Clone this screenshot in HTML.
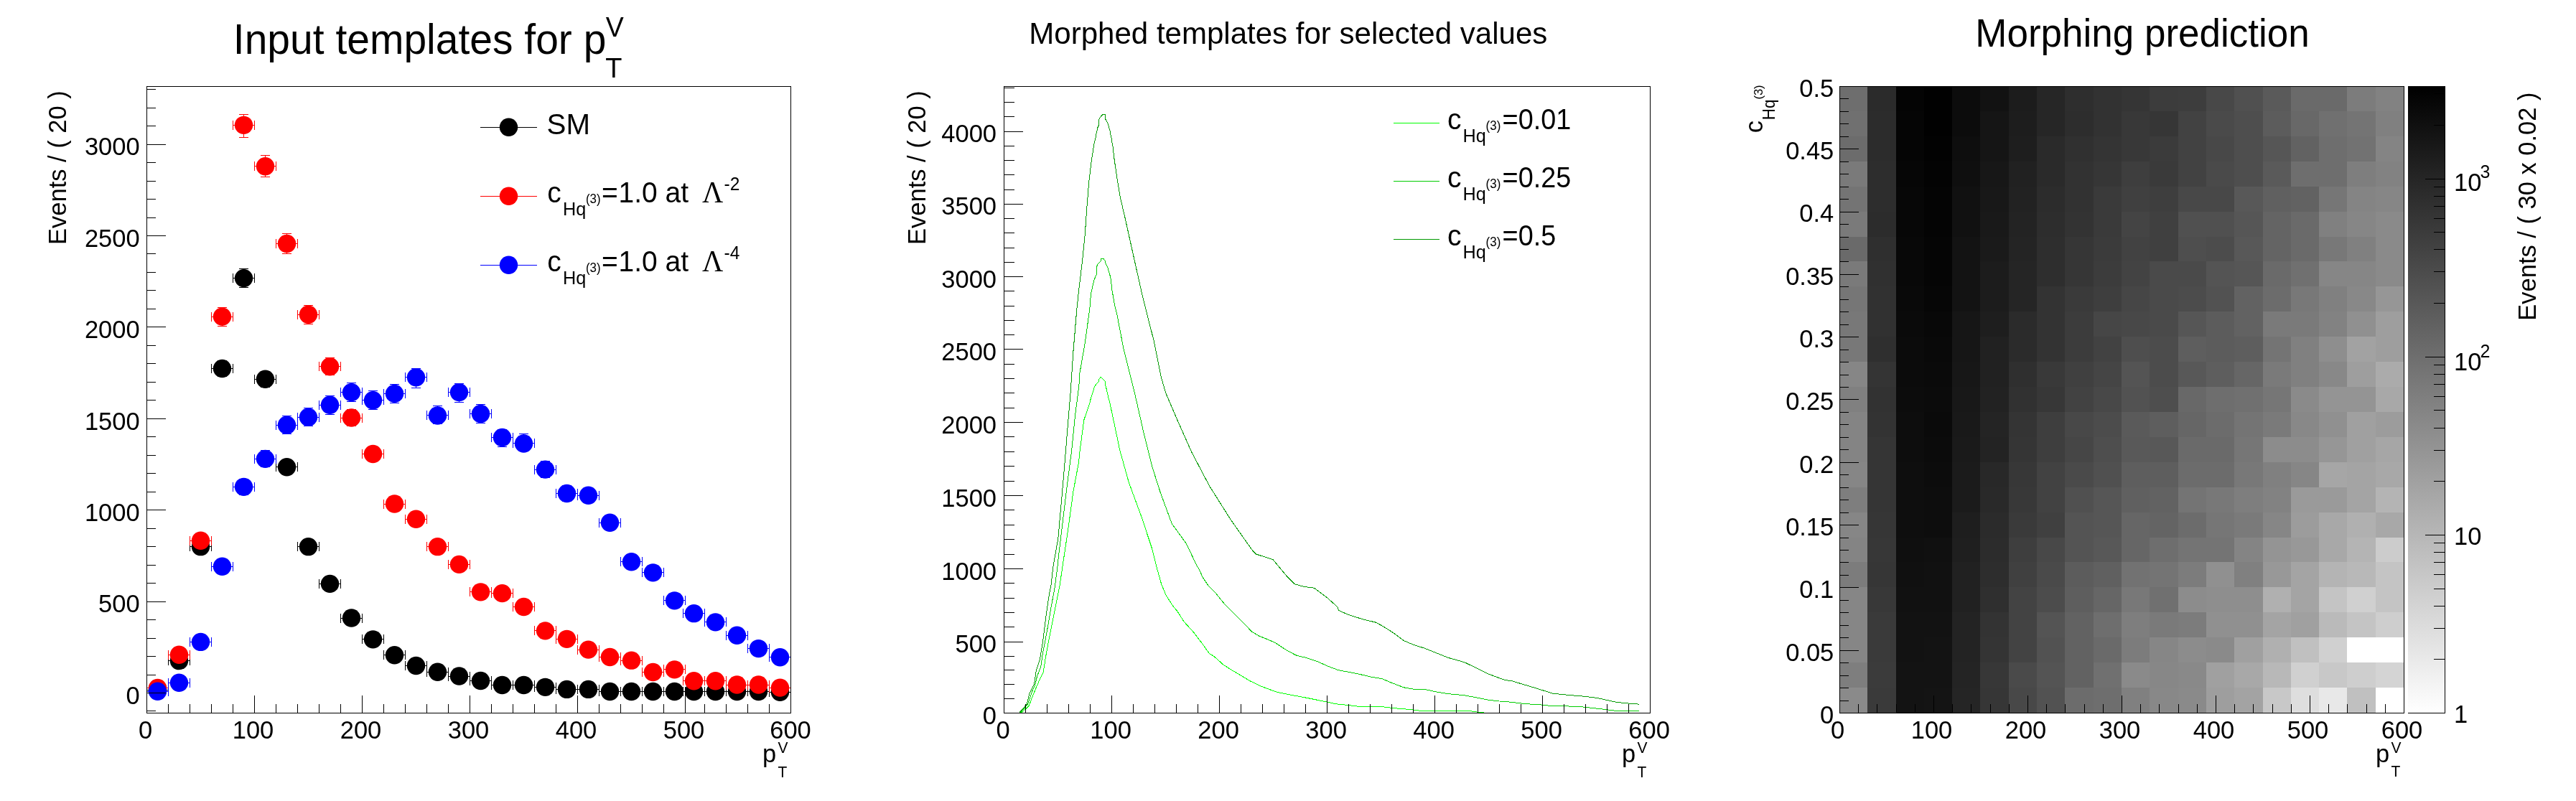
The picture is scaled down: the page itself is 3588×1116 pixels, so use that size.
<!DOCTYPE html>
<html><head><meta charset="utf-8"><title>plot</title>
<style>html,body{margin:0;padding:0;background:#fff;}svg{display:block;will-change:transform}text{fill:#000}</style></head>
<body><svg width="3588" height="1116" viewBox="0 0 3588 1116">
<rect width="3588" height="1116" fill="#fff"/>
<clipPath id="cp1"><rect x="204" y="120" width="898" height="874"/></clipPath>
<g clip-path="url(#cp1)">
<g fill="#000000" stroke="none">
<g shape-rendering="crispEdges">
<rect x="204" y="961" width="31" height="1"/>
<rect x="204" y="955" width="1" height="13"/>
<rect x="234" y="955" width="1" height="13"/>
<rect x="219" y="960" width="1" height="3"/>
<rect x="213" y="960" width="13" height="1"/>
<rect x="213" y="962" width="13" height="1"/>
<rect x="234" y="920" width="31" height="1"/>
<rect x="234" y="914" width="1" height="13"/>
<rect x="264" y="914" width="1" height="13"/>
<rect x="249" y="917" width="1" height="8"/>
<rect x="243" y="917" width="13" height="1"/>
<rect x="243" y="924" width="13" height="1"/>
<rect x="264" y="761" width="31" height="1"/>
<rect x="264" y="755" width="1" height="13"/>
<rect x="294" y="755" width="1" height="13"/>
<rect x="279" y="754" width="1" height="16"/>
<rect x="273" y="754" width="13" height="1"/>
<rect x="273" y="769" width="13" height="1"/>
<rect x="294" y="513" width="31" height="1"/>
<rect x="294" y="507" width="1" height="13"/>
<rect x="324" y="507" width="1" height="13"/>
<rect x="309" y="502" width="1" height="23"/>
<rect x="303" y="502" width="13" height="1"/>
<rect x="303" y="524" width="13" height="1"/>
<rect x="324" y="387" width="31" height="1"/>
<rect x="324" y="381" width="1" height="13"/>
<rect x="354" y="381" width="1" height="13"/>
<rect x="339" y="374" width="1" height="27"/>
<rect x="333" y="374" width="13" height="1"/>
<rect x="333" y="400" width="13" height="1"/>
<rect x="354" y="528" width="31" height="1"/>
<rect x="354" y="522" width="1" height="13"/>
<rect x="384" y="522" width="1" height="13"/>
<rect x="369" y="517" width="1" height="23"/>
<rect x="363" y="517" width="13" height="1"/>
<rect x="363" y="539" width="13" height="1"/>
<rect x="384" y="650" width="31" height="1"/>
<rect x="384" y="644" width="1" height="13"/>
<rect x="414" y="644" width="1" height="13"/>
<rect x="399" y="641" width="1" height="20"/>
<rect x="393" y="641" width="13" height="1"/>
<rect x="393" y="660" width="13" height="1"/>
<rect x="414" y="761" width="31" height="1"/>
<rect x="414" y="755" width="1" height="13"/>
<rect x="444" y="755" width="1" height="13"/>
<rect x="429" y="754" width="1" height="16"/>
<rect x="423" y="754" width="13" height="1"/>
<rect x="423" y="769" width="13" height="1"/>
<rect x="444" y="813" width="31" height="1"/>
<rect x="444" y="807" width="1" height="13"/>
<rect x="474" y="807" width="1" height="13"/>
<rect x="459" y="806" width="1" height="14"/>
<rect x="453" y="806" width="13" height="1"/>
<rect x="453" y="819" width="13" height="1"/>
<rect x="474" y="861" width="31" height="1"/>
<rect x="474" y="855" width="1" height="13"/>
<rect x="504" y="855" width="1" height="13"/>
<rect x="489" y="855" width="1" height="12"/>
<rect x="483" y="855" width="13" height="1"/>
<rect x="483" y="866" width="13" height="1"/>
<rect x="504" y="890" width="31" height="1"/>
<rect x="504" y="884" width="1" height="13"/>
<rect x="534" y="884" width="1" height="13"/>
<rect x="519" y="886" width="1" height="10"/>
<rect x="513" y="886" width="13" height="1"/>
<rect x="513" y="895" width="13" height="1"/>
<rect x="534" y="912" width="31" height="1"/>
<rect x="534" y="906" width="1" height="13"/>
<rect x="564" y="906" width="1" height="13"/>
<rect x="549" y="908" width="1" height="9"/>
<rect x="543" y="908" width="13" height="1"/>
<rect x="543" y="916" width="13" height="1"/>
<rect x="564" y="927" width="31" height="1"/>
<rect x="564" y="921" width="1" height="13"/>
<rect x="594" y="921" width="1" height="13"/>
<rect x="579" y="924" width="1" height="7"/>
<rect x="573" y="924" width="13" height="1"/>
<rect x="573" y="930" width="13" height="1"/>
<rect x="594" y="936" width="31" height="1"/>
<rect x="594" y="930" width="1" height="13"/>
<rect x="624" y="930" width="1" height="13"/>
<rect x="609" y="933" width="1" height="7"/>
<rect x="603" y="933" width="13" height="1"/>
<rect x="603" y="939" width="13" height="1"/>
<rect x="624" y="942" width="31" height="1"/>
<rect x="624" y="936" width="1" height="13"/>
<rect x="654" y="936" width="1" height="13"/>
<rect x="639" y="939" width="1" height="6"/>
<rect x="633" y="939" width="13" height="1"/>
<rect x="633" y="944" width="13" height="1"/>
<rect x="654" y="948" width="31" height="1"/>
<rect x="654" y="942" width="1" height="13"/>
<rect x="684" y="942" width="1" height="13"/>
<rect x="669" y="946" width="1" height="5"/>
<rect x="663" y="946" width="13" height="1"/>
<rect x="663" y="950" width="13" height="1"/>
<rect x="684" y="954" width="31" height="1"/>
<rect x="684" y="948" width="1" height="13"/>
<rect x="714" y="948" width="1" height="13"/>
<rect x="699" y="952" width="1" height="5"/>
<rect x="693" y="952" width="13" height="1"/>
<rect x="693" y="956" width="13" height="1"/>
<rect x="714" y="954" width="31" height="1"/>
<rect x="714" y="948" width="1" height="13"/>
<rect x="744" y="948" width="1" height="13"/>
<rect x="729" y="952" width="1" height="5"/>
<rect x="723" y="952" width="13" height="1"/>
<rect x="723" y="956" width="13" height="1"/>
<rect x="744" y="957" width="31" height="1"/>
<rect x="744" y="951" width="1" height="13"/>
<rect x="774" y="951" width="1" height="13"/>
<rect x="759" y="955" width="1" height="4"/>
<rect x="753" y="955" width="13" height="1"/>
<rect x="753" y="958" width="13" height="1"/>
<rect x="774" y="960" width="31" height="1"/>
<rect x="774" y="954" width="1" height="13"/>
<rect x="804" y="954" width="1" height="13"/>
<rect x="789" y="959" width="1" height="3"/>
<rect x="783" y="959" width="13" height="1"/>
<rect x="783" y="961" width="13" height="1"/>
<rect x="804" y="960" width="31" height="1"/>
<rect x="804" y="954" width="1" height="13"/>
<rect x="834" y="954" width="1" height="13"/>
<rect x="819" y="959" width="1" height="3"/>
<rect x="813" y="959" width="13" height="1"/>
<rect x="813" y="961" width="13" height="1"/>
<rect x="834" y="963" width="31" height="1"/>
<rect x="834" y="957" width="1" height="13"/>
<rect x="864" y="957" width="1" height="13"/>
<rect x="849" y="962" width="1" height="3"/>
<rect x="843" y="962" width="13" height="1"/>
<rect x="843" y="964" width="13" height="1"/>
<rect x="864" y="963" width="31" height="1"/>
<rect x="864" y="957" width="1" height="13"/>
<rect x="894" y="957" width="1" height="13"/>
<rect x="879" y="962" width="1" height="3"/>
<rect x="873" y="962" width="13" height="1"/>
<rect x="873" y="964" width="13" height="1"/>
<rect x="894" y="963" width="31" height="1"/>
<rect x="894" y="957" width="1" height="13"/>
<rect x="924" y="957" width="1" height="13"/>
<rect x="909" y="962" width="1" height="3"/>
<rect x="903" y="962" width="13" height="1"/>
<rect x="903" y="964" width="13" height="1"/>
<rect x="924" y="963" width="31" height="1"/>
<rect x="924" y="957" width="1" height="13"/>
<rect x="954" y="957" width="1" height="13"/>
<rect x="939" y="962" width="1" height="3"/>
<rect x="933" y="962" width="13" height="1"/>
<rect x="933" y="964" width="13" height="1"/>
<rect x="951" y="963" width="31" height="1"/>
<rect x="951" y="957" width="1" height="13"/>
<rect x="981" y="957" width="1" height="13"/>
<rect x="966" y="962" width="1" height="3"/>
<rect x="960" y="962" width="13" height="1"/>
<rect x="960" y="964" width="13" height="1"/>
<rect x="981" y="963" width="31" height="1"/>
<rect x="981" y="957" width="1" height="13"/>
<rect x="1011" y="957" width="1" height="13"/>
<rect x="996" y="962" width="1" height="3"/>
<rect x="990" y="962" width="13" height="1"/>
<rect x="990" y="964" width="13" height="1"/>
<rect x="1011" y="963" width="31" height="1"/>
<rect x="1011" y="957" width="1" height="13"/>
<rect x="1041" y="957" width="1" height="13"/>
<rect x="1026" y="962" width="1" height="3"/>
<rect x="1020" y="962" width="13" height="1"/>
<rect x="1020" y="964" width="13" height="1"/>
<rect x="1041" y="963" width="31" height="1"/>
<rect x="1041" y="957" width="1" height="13"/>
<rect x="1071" y="957" width="1" height="13"/>
<rect x="1056" y="962" width="1" height="3"/>
<rect x="1050" y="962" width="13" height="1"/>
<rect x="1050" y="964" width="13" height="1"/>
<rect x="1071" y="964" width="31" height="1"/>
<rect x="1071" y="958" width="1" height="13"/>
<rect x="1101" y="958" width="1" height="13"/>
<rect x="1086" y="963" width="1" height="2"/>
<rect x="1080" y="963" width="13" height="1"/>
<rect x="1080" y="964" width="13" height="1"/>
</g>
<circle cx="219.50" cy="961.68" r="12.7"/>
<circle cx="249.50" cy="920.66" r="12.7"/>
<circle cx="279.50" cy="761.66" r="12.7"/>
<circle cx="309.50" cy="513.48" r="12.7"/>
<circle cx="339.50" cy="387.61" r="12.7"/>
<circle cx="369.50" cy="528.26" r="12.7"/>
<circle cx="399.50" cy="650.82" r="12.7"/>
<circle cx="429.50" cy="761.66" r="12.7"/>
<circle cx="459.50" cy="813.38" r="12.7"/>
<circle cx="489.50" cy="861.03" r="12.7"/>
<circle cx="519.50" cy="890.84" r="12.7"/>
<circle cx="549.50" cy="912.76" r="12.7"/>
<circle cx="579.50" cy="927.53" r="12.7"/>
<circle cx="609.50" cy="936.20" r="12.7"/>
<circle cx="639.50" cy="942.06" r="12.7"/>
<circle cx="669.50" cy="948.43" r="12.7"/>
<circle cx="699.50" cy="954.54" r="12.7"/>
<circle cx="729.50" cy="954.54" r="12.7"/>
<circle cx="759.50" cy="957.35" r="12.7"/>
<circle cx="789.50" cy="960.40" r="12.7"/>
<circle cx="819.50" cy="960.40" r="12.7"/>
<circle cx="849.50" cy="963.46" r="12.7"/>
<circle cx="879.50" cy="963.46" r="12.7"/>
<circle cx="909.50" cy="963.46" r="12.7"/>
<circle cx="939.50" cy="963.46" r="12.7"/>
<circle cx="966.50" cy="963.46" r="12.7"/>
<circle cx="996.50" cy="963.46" r="12.7"/>
<circle cx="1026.50" cy="963.46" r="12.7"/>
<circle cx="1056.50" cy="963.46" r="12.7"/>
<circle cx="1086.50" cy="964.23" r="12.7"/>
</g>
<g fill="#ff0000" stroke="none">
<g shape-rendering="crispEdges">
<rect x="204" y="958" width="31" height="1"/>
<rect x="204" y="952" width="1" height="13"/>
<rect x="234" y="952" width="1" height="13"/>
<rect x="219" y="956" width="1" height="4"/>
<rect x="213" y="956" width="13" height="1"/>
<rect x="213" y="959" width="13" height="1"/>
<rect x="234" y="912" width="31" height="1"/>
<rect x="234" y="906" width="1" height="13"/>
<rect x="264" y="906" width="1" height="13"/>
<rect x="249" y="908" width="1" height="9"/>
<rect x="243" y="908" width="13" height="1"/>
<rect x="243" y="916" width="13" height="1"/>
<rect x="264" y="753" width="31" height="1"/>
<rect x="264" y="747" width="1" height="13"/>
<rect x="294" y="747" width="1" height="13"/>
<rect x="279" y="745" width="1" height="17"/>
<rect x="273" y="745" width="13" height="1"/>
<rect x="273" y="761" width="13" height="1"/>
<rect x="294" y="441" width="31" height="1"/>
<rect x="294" y="435" width="1" height="13"/>
<rect x="324" y="435" width="1" height="13"/>
<rect x="309" y="428" width="1" height="27"/>
<rect x="303" y="428" width="13" height="1"/>
<rect x="303" y="454" width="13" height="1"/>
<rect x="324" y="174" width="31" height="1"/>
<rect x="324" y="168" width="1" height="13"/>
<rect x="354" y="168" width="1" height="13"/>
<rect x="339" y="159" width="1" height="33"/>
<rect x="333" y="159" width="13" height="1"/>
<rect x="333" y="191" width="13" height="1"/>
<rect x="354" y="231" width="31" height="1"/>
<rect x="354" y="225" width="1" height="13"/>
<rect x="384" y="225" width="1" height="13"/>
<rect x="369" y="216" width="1" height="31"/>
<rect x="363" y="216" width="13" height="1"/>
<rect x="363" y="246" width="13" height="1"/>
<rect x="384" y="339" width="31" height="1"/>
<rect x="384" y="333" width="1" height="13"/>
<rect x="414" y="333" width="1" height="13"/>
<rect x="399" y="325" width="1" height="29"/>
<rect x="393" y="325" width="13" height="1"/>
<rect x="393" y="353" width="13" height="1"/>
<rect x="414" y="438" width="31" height="1"/>
<rect x="414" y="432" width="1" height="13"/>
<rect x="444" y="432" width="1" height="13"/>
<rect x="429" y="425" width="1" height="27"/>
<rect x="423" y="425" width="13" height="1"/>
<rect x="423" y="451" width="13" height="1"/>
<rect x="444" y="510" width="31" height="1"/>
<rect x="444" y="504" width="1" height="13"/>
<rect x="474" y="504" width="1" height="13"/>
<rect x="459" y="498" width="1" height="25"/>
<rect x="453" y="498" width="13" height="1"/>
<rect x="453" y="522" width="13" height="1"/>
<rect x="474" y="582" width="31" height="1"/>
<rect x="474" y="576" width="1" height="13"/>
<rect x="504" y="576" width="1" height="13"/>
<rect x="489" y="570" width="1" height="24"/>
<rect x="483" y="570" width="13" height="1"/>
<rect x="483" y="593" width="13" height="1"/>
<rect x="504" y="632" width="31" height="1"/>
<rect x="504" y="626" width="1" height="13"/>
<rect x="534" y="626" width="1" height="13"/>
<rect x="519" y="622" width="1" height="21"/>
<rect x="513" y="622" width="13" height="1"/>
<rect x="513" y="642" width="13" height="1"/>
<rect x="534" y="702" width="31" height="1"/>
<rect x="534" y="696" width="1" height="13"/>
<rect x="564" y="696" width="1" height="13"/>
<rect x="549" y="692" width="1" height="20"/>
<rect x="543" y="692" width="13" height="1"/>
<rect x="543" y="711" width="13" height="1"/>
<rect x="564" y="723" width="31" height="1"/>
<rect x="564" y="717" width="1" height="13"/>
<rect x="594" y="717" width="1" height="13"/>
<rect x="579" y="714" width="1" height="18"/>
<rect x="573" y="714" width="13" height="1"/>
<rect x="573" y="731" width="13" height="1"/>
<rect x="594" y="761" width="31" height="1"/>
<rect x="594" y="755" width="1" height="13"/>
<rect x="624" y="755" width="1" height="13"/>
<rect x="609" y="753" width="1" height="17"/>
<rect x="603" y="753" width="13" height="1"/>
<rect x="603" y="769" width="13" height="1"/>
<rect x="624" y="786" width="31" height="1"/>
<rect x="624" y="780" width="1" height="13"/>
<rect x="654" y="780" width="1" height="13"/>
<rect x="639" y="778" width="1" height="16"/>
<rect x="633" y="778" width="13" height="1"/>
<rect x="633" y="793" width="13" height="1"/>
<rect x="654" y="824" width="31" height="1"/>
<rect x="654" y="818" width="1" height="13"/>
<rect x="684" y="818" width="1" height="13"/>
<rect x="669" y="818" width="1" height="14"/>
<rect x="663" y="818" width="13" height="1"/>
<rect x="663" y="831" width="13" height="1"/>
<rect x="684" y="826" width="31" height="1"/>
<rect x="684" y="820" width="1" height="13"/>
<rect x="714" y="820" width="1" height="13"/>
<rect x="699" y="819" width="1" height="15"/>
<rect x="693" y="819" width="13" height="1"/>
<rect x="693" y="833" width="13" height="1"/>
<rect x="714" y="845" width="31" height="1"/>
<rect x="714" y="839" width="1" height="13"/>
<rect x="744" y="839" width="1" height="13"/>
<rect x="729" y="839" width="1" height="13"/>
<rect x="723" y="839" width="13" height="1"/>
<rect x="723" y="851" width="13" height="1"/>
<rect x="744" y="878" width="31" height="1"/>
<rect x="744" y="872" width="1" height="13"/>
<rect x="774" y="872" width="1" height="13"/>
<rect x="759" y="873" width="1" height="12"/>
<rect x="753" y="873" width="13" height="1"/>
<rect x="753" y="884" width="13" height="1"/>
<rect x="774" y="890" width="31" height="1"/>
<rect x="774" y="884" width="1" height="13"/>
<rect x="804" y="884" width="1" height="13"/>
<rect x="789" y="885" width="1" height="11"/>
<rect x="783" y="885" width="13" height="1"/>
<rect x="783" y="895" width="13" height="1"/>
<rect x="804" y="905" width="31" height="1"/>
<rect x="804" y="899" width="1" height="13"/>
<rect x="834" y="899" width="1" height="13"/>
<rect x="819" y="900" width="1" height="10"/>
<rect x="813" y="900" width="13" height="1"/>
<rect x="813" y="909" width="13" height="1"/>
<rect x="834" y="915" width="31" height="1"/>
<rect x="834" y="909" width="1" height="13"/>
<rect x="864" y="909" width="1" height="13"/>
<rect x="849" y="911" width="1" height="9"/>
<rect x="843" y="911" width="13" height="1"/>
<rect x="843" y="919" width="13" height="1"/>
<rect x="864" y="920" width="31" height="1"/>
<rect x="864" y="914" width="1" height="13"/>
<rect x="894" y="914" width="1" height="13"/>
<rect x="879" y="916" width="1" height="8"/>
<rect x="873" y="916" width="13" height="1"/>
<rect x="873" y="923" width="13" height="1"/>
<rect x="894" y="936" width="31" height="1"/>
<rect x="894" y="930" width="1" height="13"/>
<rect x="924" y="930" width="1" height="13"/>
<rect x="909" y="933" width="1" height="7"/>
<rect x="903" y="933" width="13" height="1"/>
<rect x="903" y="939" width="13" height="1"/>
<rect x="924" y="932" width="31" height="1"/>
<rect x="924" y="926" width="1" height="13"/>
<rect x="954" y="926" width="1" height="13"/>
<rect x="939" y="929" width="1" height="8"/>
<rect x="933" y="929" width="13" height="1"/>
<rect x="933" y="936" width="13" height="1"/>
<rect x="951" y="948" width="31" height="1"/>
<rect x="951" y="942" width="1" height="13"/>
<rect x="981" y="942" width="1" height="13"/>
<rect x="966" y="946" width="1" height="6"/>
<rect x="960" y="946" width="13" height="1"/>
<rect x="960" y="951" width="13" height="1"/>
<rect x="981" y="948" width="31" height="1"/>
<rect x="981" y="942" width="1" height="13"/>
<rect x="1011" y="942" width="1" height="13"/>
<rect x="996" y="946" width="1" height="6"/>
<rect x="990" y="946" width="13" height="1"/>
<rect x="990" y="951" width="13" height="1"/>
<rect x="1011" y="954" width="31" height="1"/>
<rect x="1011" y="948" width="1" height="13"/>
<rect x="1041" y="948" width="1" height="13"/>
<rect x="1026" y="952" width="1" height="4"/>
<rect x="1020" y="952" width="13" height="1"/>
<rect x="1020" y="955" width="13" height="1"/>
<rect x="1041" y="954" width="31" height="1"/>
<rect x="1041" y="948" width="1" height="13"/>
<rect x="1071" y="948" width="1" height="13"/>
<rect x="1056" y="952" width="1" height="4"/>
<rect x="1050" y="952" width="13" height="1"/>
<rect x="1050" y="955" width="13" height="1"/>
<rect x="1071" y="958" width="31" height="1"/>
<rect x="1071" y="952" width="1" height="13"/>
<rect x="1101" y="952" width="1" height="13"/>
<rect x="1086" y="956" width="1" height="4"/>
<rect x="1080" y="956" width="13" height="1"/>
<rect x="1080" y="959" width="13" height="1"/>
</g>
<circle cx="219.50" cy="958.37" r="12.7"/>
<circle cx="249.50" cy="912.25" r="12.7"/>
<circle cx="279.50" cy="753.25" r="12.7"/>
<circle cx="309.50" cy="441.12" r="12.7"/>
<circle cx="339.50" cy="174.35" r="12.7"/>
<circle cx="369.50" cy="231.68" r="12.7"/>
<circle cx="399.50" cy="339.46" r="12.7"/>
<circle cx="429.50" cy="438.32" r="12.7"/>
<circle cx="459.50" cy="510.68" r="12.7"/>
<circle cx="489.50" cy="582.03" r="12.7"/>
<circle cx="519.50" cy="632.48" r="12.7"/>
<circle cx="549.50" cy="702.04" r="12.7"/>
<circle cx="579.50" cy="723.19" r="12.7"/>
<circle cx="609.50" cy="761.66" r="12.7"/>
<circle cx="639.50" cy="786.38" r="12.7"/>
<circle cx="669.50" cy="824.85" r="12.7"/>
<circle cx="699.50" cy="826.63" r="12.7"/>
<circle cx="729.50" cy="845.49" r="12.7"/>
<circle cx="759.50" cy="878.87" r="12.7"/>
<circle cx="789.50" cy="890.33" r="12.7"/>
<circle cx="819.50" cy="905.11" r="12.7"/>
<circle cx="849.50" cy="915.56" r="12.7"/>
<circle cx="879.50" cy="920.15" r="12.7"/>
<circle cx="909.50" cy="936.45" r="12.7"/>
<circle cx="939.50" cy="932.89" r="12.7"/>
<circle cx="966.50" cy="948.68" r="12.7"/>
<circle cx="996.50" cy="948.68" r="12.7"/>
<circle cx="1026.50" cy="954.03" r="12.7"/>
<circle cx="1056.50" cy="954.03" r="12.7"/>
<circle cx="1086.50" cy="958.11" r="12.7"/>
</g>
<g fill="#0000ff" stroke="none">
<g shape-rendering="crispEdges">
<rect x="204" y="963" width="31" height="1"/>
<rect x="204" y="957" width="1" height="13"/>
<rect x="234" y="957" width="1" height="13"/>
<rect x="219" y="962" width="1" height="3"/>
<rect x="213" y="962" width="13" height="1"/>
<rect x="213" y="964" width="13" height="1"/>
<rect x="234" y="951" width="31" height="1"/>
<rect x="234" y="945" width="1" height="13"/>
<rect x="264" y="945" width="1" height="13"/>
<rect x="249" y="948" width="1" height="6"/>
<rect x="243" y="948" width="13" height="1"/>
<rect x="243" y="953" width="13" height="1"/>
<rect x="264" y="894" width="31" height="1"/>
<rect x="264" y="888" width="1" height="13"/>
<rect x="294" y="888" width="1" height="13"/>
<rect x="279" y="889" width="1" height="11"/>
<rect x="273" y="889" width="13" height="1"/>
<rect x="273" y="899" width="13" height="1"/>
<rect x="294" y="789" width="31" height="1"/>
<rect x="294" y="783" width="1" height="13"/>
<rect x="324" y="783" width="1" height="13"/>
<rect x="309" y="780" width="1" height="18"/>
<rect x="303" y="780" width="13" height="1"/>
<rect x="303" y="797" width="13" height="1"/>
<rect x="324" y="678" width="31" height="1"/>
<rect x="324" y="672" width="1" height="13"/>
<rect x="354" y="672" width="1" height="13"/>
<rect x="339" y="667" width="1" height="23"/>
<rect x="333" y="667" width="13" height="1"/>
<rect x="333" y="689" width="13" height="1"/>
<rect x="354" y="639" width="31" height="1"/>
<rect x="354" y="633" width="1" height="13"/>
<rect x="384" y="633" width="1" height="13"/>
<rect x="369" y="627" width="1" height="24"/>
<rect x="363" y="627" width="13" height="1"/>
<rect x="363" y="650" width="13" height="1"/>
<rect x="384" y="592" width="31" height="1"/>
<rect x="384" y="586" width="1" height="13"/>
<rect x="414" y="586" width="1" height="13"/>
<rect x="399" y="579" width="1" height="26"/>
<rect x="393" y="579" width="13" height="1"/>
<rect x="393" y="604" width="13" height="1"/>
<rect x="414" y="581" width="31" height="1"/>
<rect x="414" y="575" width="1" height="13"/>
<rect x="444" y="575" width="1" height="13"/>
<rect x="429" y="568" width="1" height="26"/>
<rect x="423" y="568" width="13" height="1"/>
<rect x="423" y="593" width="13" height="1"/>
<rect x="444" y="564" width="31" height="1"/>
<rect x="444" y="558" width="1" height="13"/>
<rect x="474" y="558" width="1" height="13"/>
<rect x="459" y="551" width="1" height="27"/>
<rect x="453" y="551" width="13" height="1"/>
<rect x="453" y="577" width="13" height="1"/>
<rect x="474" y="546" width="31" height="1"/>
<rect x="474" y="540" width="1" height="13"/>
<rect x="504" y="540" width="1" height="13"/>
<rect x="489" y="533" width="1" height="27"/>
<rect x="483" y="533" width="13" height="1"/>
<rect x="483" y="559" width="13" height="1"/>
<rect x="504" y="557" width="31" height="1"/>
<rect x="504" y="551" width="1" height="13"/>
<rect x="534" y="551" width="1" height="13"/>
<rect x="519" y="544" width="1" height="27"/>
<rect x="513" y="544" width="13" height="1"/>
<rect x="513" y="570" width="13" height="1"/>
<rect x="534" y="548" width="31" height="1"/>
<rect x="534" y="542" width="1" height="13"/>
<rect x="564" y="542" width="1" height="13"/>
<rect x="549" y="535" width="1" height="27"/>
<rect x="543" y="535" width="13" height="1"/>
<rect x="543" y="561" width="13" height="1"/>
<rect x="564" y="525" width="31" height="1"/>
<rect x="564" y="519" width="1" height="13"/>
<rect x="594" y="519" width="1" height="13"/>
<rect x="579" y="513" width="1" height="28"/>
<rect x="573" y="513" width="13" height="1"/>
<rect x="573" y="540" width="13" height="1"/>
<rect x="594" y="578" width="31" height="1"/>
<rect x="594" y="572" width="1" height="13"/>
<rect x="624" y="572" width="1" height="13"/>
<rect x="609" y="565" width="1" height="26"/>
<rect x="603" y="565" width="13" height="1"/>
<rect x="603" y="590" width="13" height="1"/>
<rect x="624" y="546" width="31" height="1"/>
<rect x="624" y="540" width="1" height="13"/>
<rect x="654" y="540" width="1" height="13"/>
<rect x="639" y="534" width="1" height="27"/>
<rect x="633" y="534" width="13" height="1"/>
<rect x="633" y="560" width="13" height="1"/>
<rect x="654" y="576" width="31" height="1"/>
<rect x="654" y="570" width="1" height="13"/>
<rect x="684" y="570" width="1" height="13"/>
<rect x="669" y="563" width="1" height="27"/>
<rect x="663" y="563" width="13" height="1"/>
<rect x="663" y="589" width="13" height="1"/>
<rect x="684" y="609" width="31" height="1"/>
<rect x="684" y="603" width="1" height="13"/>
<rect x="714" y="603" width="1" height="13"/>
<rect x="699" y="598" width="1" height="25"/>
<rect x="693" y="598" width="13" height="1"/>
<rect x="693" y="622" width="13" height="1"/>
<rect x="714" y="617" width="31" height="1"/>
<rect x="714" y="611" width="1" height="13"/>
<rect x="744" y="611" width="1" height="13"/>
<rect x="729" y="604" width="1" height="25"/>
<rect x="723" y="604" width="13" height="1"/>
<rect x="723" y="628" width="13" height="1"/>
<rect x="744" y="654" width="31" height="1"/>
<rect x="744" y="648" width="1" height="13"/>
<rect x="774" y="648" width="1" height="13"/>
<rect x="759" y="642" width="1" height="24"/>
<rect x="753" y="642" width="13" height="1"/>
<rect x="753" y="665" width="13" height="1"/>
<rect x="774" y="687" width="31" height="1"/>
<rect x="774" y="681" width="1" height="13"/>
<rect x="804" y="681" width="1" height="13"/>
<rect x="789" y="676" width="1" height="23"/>
<rect x="783" y="676" width="13" height="1"/>
<rect x="783" y="698" width="13" height="1"/>
<rect x="804" y="690" width="31" height="1"/>
<rect x="804" y="684" width="1" height="13"/>
<rect x="834" y="684" width="1" height="13"/>
<rect x="819" y="679" width="1" height="22"/>
<rect x="813" y="679" width="13" height="1"/>
<rect x="813" y="700" width="13" height="1"/>
<rect x="834" y="728" width="31" height="1"/>
<rect x="834" y="722" width="1" height="13"/>
<rect x="864" y="722" width="1" height="13"/>
<rect x="849" y="718" width="1" height="21"/>
<rect x="843" y="718" width="13" height="1"/>
<rect x="843" y="738" width="13" height="1"/>
<rect x="864" y="782" width="31" height="1"/>
<rect x="864" y="776" width="1" height="13"/>
<rect x="894" y="776" width="1" height="13"/>
<rect x="879" y="774" width="1" height="18"/>
<rect x="873" y="774" width="13" height="1"/>
<rect x="873" y="791" width="13" height="1"/>
<rect x="894" y="797" width="31" height="1"/>
<rect x="894" y="791" width="1" height="13"/>
<rect x="924" y="791" width="1" height="13"/>
<rect x="909" y="789" width="1" height="18"/>
<rect x="903" y="789" width="13" height="1"/>
<rect x="903" y="806" width="13" height="1"/>
<rect x="924" y="836" width="31" height="1"/>
<rect x="924" y="830" width="1" height="13"/>
<rect x="954" y="830" width="1" height="13"/>
<rect x="939" y="829" width="1" height="16"/>
<rect x="933" y="829" width="13" height="1"/>
<rect x="933" y="844" width="13" height="1"/>
<rect x="951" y="854" width="31" height="1"/>
<rect x="951" y="848" width="1" height="13"/>
<rect x="981" y="848" width="1" height="13"/>
<rect x="966" y="847" width="1" height="15"/>
<rect x="960" y="847" width="13" height="1"/>
<rect x="960" y="861" width="13" height="1"/>
<rect x="981" y="866" width="31" height="1"/>
<rect x="981" y="860" width="1" height="13"/>
<rect x="1011" y="860" width="1" height="13"/>
<rect x="996" y="860" width="1" height="14"/>
<rect x="990" y="860" width="13" height="1"/>
<rect x="990" y="873" width="13" height="1"/>
<rect x="1011" y="885" width="31" height="1"/>
<rect x="1011" y="879" width="1" height="13"/>
<rect x="1041" y="879" width="1" height="13"/>
<rect x="1026" y="879" width="1" height="12"/>
<rect x="1020" y="879" width="13" height="1"/>
<rect x="1020" y="890" width="13" height="1"/>
<rect x="1041" y="903" width="31" height="1"/>
<rect x="1041" y="897" width="1" height="13"/>
<rect x="1071" y="897" width="1" height="13"/>
<rect x="1056" y="898" width="1" height="11"/>
<rect x="1050" y="898" width="13" height="1"/>
<rect x="1050" y="908" width="13" height="1"/>
<rect x="1071" y="915" width="31" height="1"/>
<rect x="1071" y="909" width="1" height="13"/>
<rect x="1101" y="909" width="1" height="13"/>
<rect x="1086" y="911" width="1" height="10"/>
<rect x="1080" y="911" width="13" height="1"/>
<rect x="1080" y="920" width="13" height="1"/>
</g>
<circle cx="219.50" cy="963.21" r="12.7"/>
<circle cx="249.50" cy="951.23" r="12.7"/>
<circle cx="279.50" cy="894.41" r="12.7"/>
<circle cx="309.50" cy="789.18" r="12.7"/>
<circle cx="339.50" cy="678.34" r="12.7"/>
<circle cx="369.50" cy="639.36" r="12.7"/>
<circle cx="399.50" cy="592.22" r="12.7"/>
<circle cx="429.50" cy="581.26" r="12.7"/>
<circle cx="459.50" cy="564.19" r="12.7"/>
<circle cx="489.50" cy="546.61" r="12.7"/>
<circle cx="519.50" cy="557.82" r="12.7"/>
<circle cx="549.50" cy="548.39" r="12.7"/>
<circle cx="579.50" cy="525.72" r="12.7"/>
<circle cx="609.50" cy="578.97" r="12.7"/>
<circle cx="639.50" cy="546.61" r="12.7"/>
<circle cx="669.50" cy="576.42" r="12.7"/>
<circle cx="699.50" cy="609.54" r="12.7"/>
<circle cx="729.50" cy="617.95" r="12.7"/>
<circle cx="759.50" cy="654.13" r="12.7"/>
<circle cx="789.50" cy="687.51" r="12.7"/>
<circle cx="819.50" cy="690.32" r="12.7"/>
<circle cx="849.50" cy="728.28" r="12.7"/>
<circle cx="879.50" cy="782.81" r="12.7"/>
<circle cx="909.50" cy="797.84" r="12.7"/>
<circle cx="939.50" cy="836.83" r="12.7"/>
<circle cx="966.50" cy="854.66" r="12.7"/>
<circle cx="996.50" cy="866.89" r="12.7"/>
<circle cx="1026.50" cy="885.24" r="12.7"/>
<circle cx="1056.50" cy="903.58" r="12.7"/>
<circle cx="1086.50" cy="915.81" r="12.7"/>
</g>
</g>
<g shape-rendering="crispEdges">
<rect x="204.00" y="120.00" width="898.00" height="1" fill="#000"/>
<rect x="204.00" y="993.00" width="898.00" height="1" fill="#000"/>
<rect x="204.00" y="120.00" width="1" height="874.00" fill="#000"/>
<rect x="1101.00" y="120.00" width="1" height="874.00" fill="#000"/>
<rect x="234.00" y="981.00" width="1" height="12.00" fill="#000"/>
<rect x="264.00" y="981.00" width="1" height="12.00" fill="#000"/>
<rect x="294.00" y="981.00" width="1" height="12.00" fill="#000"/>
<rect x="324.00" y="981.00" width="1" height="12.00" fill="#000"/>
<rect x="354.00" y="969.00" width="1" height="24.00" fill="#000"/>
<rect x="384.00" y="981.00" width="1" height="12.00" fill="#000"/>
<rect x="414.00" y="981.00" width="1" height="12.00" fill="#000"/>
<rect x="444.00" y="981.00" width="1" height="12.00" fill="#000"/>
<rect x="474.00" y="981.00" width="1" height="12.00" fill="#000"/>
<rect x="504.00" y="969.00" width="1" height="24.00" fill="#000"/>
<rect x="534.00" y="981.00" width="1" height="12.00" fill="#000"/>
<rect x="564.00" y="981.00" width="1" height="12.00" fill="#000"/>
<rect x="594.00" y="981.00" width="1" height="12.00" fill="#000"/>
<rect x="624.00" y="981.00" width="1" height="12.00" fill="#000"/>
<rect x="654.00" y="969.00" width="1" height="24.00" fill="#000"/>
<rect x="684.00" y="981.00" width="1" height="12.00" fill="#000"/>
<rect x="714.00" y="981.00" width="1" height="12.00" fill="#000"/>
<rect x="744.00" y="981.00" width="1" height="12.00" fill="#000"/>
<rect x="774.00" y="981.00" width="1" height="12.00" fill="#000"/>
<rect x="804.00" y="969.00" width="1" height="24.00" fill="#000"/>
<rect x="834.00" y="981.00" width="1" height="12.00" fill="#000"/>
<rect x="864.00" y="981.00" width="1" height="12.00" fill="#000"/>
<rect x="894.00" y="981.00" width="1" height="12.00" fill="#000"/>
<rect x="924.00" y="981.00" width="1" height="12.00" fill="#000"/>
<rect x="954.00" y="969.00" width="1" height="24.00" fill="#000"/>
<rect x="981.00" y="981.00" width="1" height="12.00" fill="#000"/>
<rect x="1011.00" y="981.00" width="1" height="12.00" fill="#000"/>
<rect x="1041.00" y="981.00" width="1" height="12.00" fill="#000"/>
<rect x="1071.00" y="981.00" width="1" height="12.00" fill="#000"/>
<rect x="204.00" y="990.00" width="13.00" height="1" fill="#000"/>
<rect x="204.00" y="965.00" width="27.00" height="1" fill="#000"/>
<rect x="204.00" y="940.00" width="13.00" height="1" fill="#000"/>
<rect x="204.00" y="914.00" width="13.00" height="1" fill="#000"/>
<rect x="204.00" y="889.00" width="13.00" height="1" fill="#000"/>
<rect x="204.00" y="863.00" width="13.00" height="1" fill="#000"/>
<rect x="204.00" y="838.00" width="27.00" height="1" fill="#000"/>
<rect x="204.00" y="812.00" width="13.00" height="1" fill="#000"/>
<rect x="204.00" y="787.00" width="13.00" height="1" fill="#000"/>
<rect x="204.00" y="761.00" width="13.00" height="1" fill="#000"/>
<rect x="204.00" y="736.00" width="13.00" height="1" fill="#000"/>
<rect x="204.00" y="710.00" width="27.00" height="1" fill="#000"/>
<rect x="204.00" y="685.00" width="13.00" height="1" fill="#000"/>
<rect x="204.00" y="659.00" width="13.00" height="1" fill="#000"/>
<rect x="204.00" y="634.00" width="13.00" height="1" fill="#000"/>
<rect x="204.00" y="608.00" width="13.00" height="1" fill="#000"/>
<rect x="204.00" y="583.00" width="27.00" height="1" fill="#000"/>
<rect x="204.00" y="557.00" width="13.00" height="1" fill="#000"/>
<rect x="204.00" y="532.00" width="13.00" height="1" fill="#000"/>
<rect x="204.00" y="506.00" width="13.00" height="1" fill="#000"/>
<rect x="204.00" y="481.00" width="13.00" height="1" fill="#000"/>
<rect x="204.00" y="455.00" width="27.00" height="1" fill="#000"/>
<rect x="204.00" y="430.00" width="13.00" height="1" fill="#000"/>
<rect x="204.00" y="404.00" width="13.00" height="1" fill="#000"/>
<rect x="204.00" y="379.00" width="13.00" height="1" fill="#000"/>
<rect x="204.00" y="353.00" width="13.00" height="1" fill="#000"/>
<rect x="204.00" y="328.00" width="27.00" height="1" fill="#000"/>
<rect x="204.00" y="303.00" width="13.00" height="1" fill="#000"/>
<rect x="204.00" y="277.00" width="13.00" height="1" fill="#000"/>
<rect x="204.00" y="252.00" width="13.00" height="1" fill="#000"/>
<rect x="204.00" y="226.00" width="13.00" height="1" fill="#000"/>
<rect x="204.00" y="201.00" width="27.00" height="1" fill="#000"/>
<rect x="204.00" y="175.00" width="13.00" height="1" fill="#000"/>
<rect x="204.00" y="150.00" width="13.00" height="1" fill="#000"/>
<rect x="204.00" y="124.00" width="13.00" height="1" fill="#000"/>
</g>
<text transform="translate(202.50 1028.80) scale(1 1.035)" font-size="34.5" text-anchor="middle" font-family="Liberation Sans, sans-serif">0</text>
<text transform="translate(352.50 1028.80) scale(1 1.035)" font-size="34.5" text-anchor="middle" font-family="Liberation Sans, sans-serif">100</text>
<text transform="translate(502.50 1028.80) scale(1 1.035)" font-size="34.5" text-anchor="middle" font-family="Liberation Sans, sans-serif">200</text>
<text transform="translate(652.50 1028.80) scale(1 1.035)" font-size="34.5" text-anchor="middle" font-family="Liberation Sans, sans-serif">300</text>
<text transform="translate(802.50 1028.80) scale(1 1.035)" font-size="34.5" text-anchor="middle" font-family="Liberation Sans, sans-serif">400</text>
<text transform="translate(952.50 1028.80) scale(1 1.035)" font-size="34.5" text-anchor="middle" font-family="Liberation Sans, sans-serif">500</text>
<text transform="translate(1101.00 1028.80) scale(1 1.035)" font-size="34.5" text-anchor="middle" font-family="Liberation Sans, sans-serif">600</text>
<text transform="translate(194.60 980.80) scale(1 1.035)" font-size="34.5" text-anchor="end" font-family="Liberation Sans, sans-serif">0</text>
<text transform="translate(194.60 853.40) scale(1 1.035)" font-size="34.5" text-anchor="end" font-family="Liberation Sans, sans-serif">500</text>
<text transform="translate(194.60 726.00) scale(1 1.035)" font-size="34.5" text-anchor="end" font-family="Liberation Sans, sans-serif">1000</text>
<text transform="translate(194.60 598.60) scale(1 1.035)" font-size="34.5" text-anchor="end" font-family="Liberation Sans, sans-serif">1500</text>
<text transform="translate(194.60 471.20) scale(1 1.035)" font-size="34.5" text-anchor="end" font-family="Liberation Sans, sans-serif">2000</text>
<text transform="translate(194.60 343.80) scale(1 1.035)" font-size="34.5" text-anchor="end" font-family="Liberation Sans, sans-serif">2500</text>
<text transform="translate(194.60 216.40) scale(1 1.035)" font-size="34.5" text-anchor="end" font-family="Liberation Sans, sans-serif">3000</text>
<text transform="translate(92.00 126.30) rotate(-90) scale(1 1.035)" font-size="34.5" text-anchor="end" font-family="Liberation Sans, sans-serif">Events / ( 20 )</text>
<text transform="translate(1062.00 1062.00) scale(1 1.035)" font-size="34.5" text-anchor="start" font-family="Liberation Sans, sans-serif">p</text>
<text transform="translate(1083.50 1049.30) scale(1 1.035)" font-size="21" text-anchor="start" font-family="Liberation Sans, sans-serif">V</text>
<text transform="translate(1083.50 1082.70) scale(1 1.035)" font-size="21" text-anchor="start" font-family="Liberation Sans, sans-serif">T</text>
<text transform="translate(324.80 75.20) scale(1 1.035)" font-size="57.0" text-anchor="start" font-family="Liberation Sans, sans-serif">Input templates for p</text>
<text transform="translate(843.80 50.80) scale(1 1.035)" font-size="37.5" text-anchor="start" font-family="Liberation Sans, sans-serif">V</text>
<text transform="translate(843.20 108.20) scale(1 1.035)" font-size="38" text-anchor="start" font-family="Liberation Sans, sans-serif">T</text>
<rect x="669" y="176.70" width="79" height="1" fill="#000" shape-rendering="crispEdges"/>
<circle cx="708.5" cy="177.20" r="12.7" fill="#000"/>
<rect x="669" y="272.80" width="79" height="1" fill="#ff0000" shape-rendering="crispEdges"/>
<circle cx="708.5" cy="273.30" r="12.7" fill="#ff0000"/>
<rect x="669" y="368.80" width="79" height="1" fill="#0000ff" shape-rendering="crispEdges"/>
<circle cx="708.5" cy="369.30" r="12.7" fill="#0000ff"/>
<text transform="translate(761.50 186.60) scale(1 1.0)" font-size="40.3" text-anchor="start" font-family="Liberation Sans, sans-serif">SM</text>
<text transform="translate(762.30 282.20) scale(1 1.035)" font-size="39" text-anchor="start" font-family="Liberation Sans, sans-serif">c</text>
<text transform="translate(783.90 300.00) scale(1 1.035)" font-size="25.3" text-anchor="start" font-family="Liberation Sans, sans-serif">Hq</text>
<text transform="translate(815.90 283.40) scale(1 1.035)" font-size="17" text-anchor="start" font-family="Liberation Sans, sans-serif">(3)</text>
<text transform="translate(837.90 282.20) scale(1 1.035)" font-size="39" text-anchor="start" font-family="Liberation Sans, sans-serif">=</text>
<text transform="translate(861.60 282.20) scale(1 1.035)" font-size="39" text-anchor="start" font-family="Liberation Sans, sans-serif">1.0</text>
<text transform="translate(926.60 282.20) scale(1 1.035)" font-size="39" text-anchor="start" font-family="Liberation Sans, sans-serif">at</text>
<text transform="translate(978.00 282.20) scale(1 1.035)" font-size="40.5" text-anchor="start" font-family="Liberation Serif, sans-serif">Λ</text>
<text transform="translate(1008.50 265.20) scale(1 1.035)" font-size="24.5" text-anchor="start" font-family="Liberation Sans, sans-serif">-2</text>
<text transform="translate(762.30 378.10) scale(1 1.035)" font-size="39" text-anchor="start" font-family="Liberation Sans, sans-serif">c</text>
<text transform="translate(783.90 395.90) scale(1 1.035)" font-size="25.3" text-anchor="start" font-family="Liberation Sans, sans-serif">Hq</text>
<text transform="translate(815.90 379.30) scale(1 1.035)" font-size="17" text-anchor="start" font-family="Liberation Sans, sans-serif">(3)</text>
<text transform="translate(837.90 378.10) scale(1 1.035)" font-size="39" text-anchor="start" font-family="Liberation Sans, sans-serif">=</text>
<text transform="translate(861.60 378.10) scale(1 1.035)" font-size="39" text-anchor="start" font-family="Liberation Sans, sans-serif">1.0</text>
<text transform="translate(926.60 378.10) scale(1 1.035)" font-size="39" text-anchor="start" font-family="Liberation Sans, sans-serif">at</text>
<text transform="translate(978.00 378.10) scale(1 1.035)" font-size="40.5" text-anchor="start" font-family="Liberation Serif, sans-serif">Λ</text>
<text transform="translate(1008.50 361.10) scale(1 1.035)" font-size="24.5" text-anchor="start" font-family="Liberation Sans, sans-serif">-4</text>
<clipPath id="cp2"><rect x="1398" y="120" width="901" height="874"/></clipPath>
<g clip-path="url(#cp2)" fill="none" stroke-width="1" shape-rendering="crispEdges">
<polyline points="1422.3,993.1 1432.8,984.0 1438.0,970.9 1443.3,957.8 1448.5,946.0 1453.2,936.8 1456.4,915.8 1460.3,894.8 1465.5,868.6 1470.8,842.4 1476.0,816.2 1479.9,789.6 1487.4,739.6 1494.9,684.7 1502.4,644.7 1503.9,629.8 1509.9,584.8 1518.4,559.9 1519.3,554.9 1520.6,551.2 1521.5,548.1 1522.5,545.6 1523.4,542.4 1524.3,539.3 1525.5,537.4 1526.5,535.6 1530.4,531.5 1530.4,528.4 1533.4,525.3 1539.4,531.2 1539.4,536.8 1540.5,539.3 1541.5,543.7 1542.4,547.4 1543.4,551.2 1544.3,556.2 1545.5,559.9 1549.8,579.8 1559.8,627.3 1572.3,672.2 1589.8,719.6 1604.7,764.6 1611.0,790.0 1617.6,813.6 1624.1,829.3 1633.3,843.7 1639.8,851.6 1649.0,866.0 1662.1,880.4 1675.2,897.5 1684.4,910.6 1691.0,914.5 1704.1,926.3 1714.5,932.9 1727.7,940.7 1740.8,948.6 1753.9,955.1 1774.8,963.0 1780.0,964.6 1799.5,968.5 1819.0,972.1 1838.4,976.0 1861.1,980.8 1877.4,982.5 1890.4,984.1 1922.8,984.4 1942.3,986.7 1961.8,988.3 1978.0,990.3 2046.2,990.3 2055.9,991.9 2067.3,993.0 2283.1,993.0" stroke="#00ff00"/>
<polyline points="1421.0,993.1 1431.5,981.3 1436.7,965.6 1441.9,953.8 1444.6,942.0 1449.8,928.9 1452.4,910.6 1456.4,889.6 1460.3,868.6 1464.2,845.0 1468.7,821.5 1472.9,790.0 1473.9,779.6 1479.9,729.6 1485.9,679.7 1492.4,629.8 1497.4,579.8 1502.9,537.4 1503.9,519.9 1510.9,479.9 1517.9,430.0 1519.4,409.7 1524.0,389.9 1525.6,386.2 1526.8,383.0 1527.4,382.4 1527.5,371.2 1528.4,369.9 1529.3,367.4 1533.6,363.7 1533.6,360.3 1536.8,360.3 1539.4,363.4 1539.6,366.2 1541.5,369.9 1542.7,372.4 1543.7,375.6 1544.6,378.7 1545.5,381.2 1546.5,385.5 1547.4,389.9 1548.6,402.2 1552.4,424.6 1556.1,439.6 1564.8,484.9 1579.8,544.9 1592.3,599.8 1604.7,649.7 1615.7,684.7 1632.2,729.6 1652.2,757.1 1667.9,790.0 1669.7,792.0 1675.2,804.4 1682.1,814.5 1683.1,816.2 1693.6,826.7 1704.1,839.8 1714.5,850.3 1727.7,863.4 1743.9,880.4 1753.9,886.2 1767.0,891.4 1777.5,896.2 1780.0,898.1 1793.0,906.5 1806.0,913.3 1819.0,916.3 1835.2,921.8 1849.8,928.3 1864.4,933.8 1877.4,936.1 1893.6,939.3 1909.8,943.2 1924.4,945.5 1939.0,951.6 1955.3,957.8 1968.3,960.1 1984.5,960.4 2000.7,964.0 2017.0,966.6 2039.7,968.8 2055.9,971.8 2072.1,975.0 2088.4,977.0 2104.6,978.2 2120.8,980.2 2137.1,981.5 2148.4,982.1 2163.0,983.8 2195.5,984.1 2211.7,985.7 2234.4,988.3 2250.7,990.3 2283.1,990.3" stroke="#00cc00"/>
<polyline points="1419.7,993.1 1430.1,981.3 1434.1,965.6 1440.6,952.5 1443.3,934.2 1448.5,918.4 1452.4,894.8 1455.0,873.9 1457.7,852.9 1460.3,834.6 1464.2,813.6 1466.8,790.0 1473.9,749.6 1477.4,709.7 1481.4,664.7 1485.9,609.8 1490.9,549.9 1494.9,489.9 1499.9,430.0 1502.9,402.2 1507.4,364.7 1511.2,327.3 1513.8,289.8 1516.8,252.4 1520.5,222.4 1524.0,199.9 1525.6,194.3 1526.5,189.3 1527.4,184.3 1528.4,180.3 1529.3,176.2 1530.4,175.3 1530.5,167.5 1531.2,165.6 1532.4,163.4 1536.2,159.4 1539.4,159.4 1539.5,165.6 1541.5,168.7 1542.7,171.2 1543.7,174.3 1544.6,177.4 1545.5,180.6 1546.5,183.7 1546.8,187.4 1547.7,190.5 1548.3,193.7 1548.7,198.0 1549.6,199.9 1551.6,218.7 1555.4,244.9 1559.9,273.0 1567.3,304.8 1574.8,338.5 1582.3,372.2 1589.8,405.9 1598.1,439.6 1607.2,474.9 1617.2,524.9 1623.7,547.4 1639.7,584.8 1659.7,629.8 1684.6,677.2 1714.6,724.6 1744.6,767.1 1749.6,772.1 1773.0,779.6 1780.0,788.0 1791.4,801.7 1803.4,813.7 1815.7,817.3 1830.3,819.2 1848.2,832.5 1862.8,845.5 1864.4,850.4 1877.4,856.2 1896.9,862.4 1916.3,867.2 1926.1,872.4 1942.3,882.8 1955.3,892.6 1968.3,898.1 1984.5,903.3 2000.7,909.8 2017.0,916.3 2039.7,922.7 2055.9,930.5 2072.1,938.6 2096.5,947.7 2104.6,948.4 2120.8,953.3 2137.1,958.1 2163.0,966.2 2185.7,968.5 2202.0,969.8 2224.7,972.4 2250.7,978.2 2266.9,979.9 2283.1,981.2" stroke="#009900"/>
</g>
<g shape-rendering="crispEdges">
<rect x="1398.00" y="120.00" width="901.00" height="1" fill="#000"/>
<rect x="1398.00" y="993.00" width="901.00" height="1" fill="#000"/>
<rect x="1398.00" y="120.00" width="1" height="874.00" fill="#000"/>
<rect x="2298.00" y="120.00" width="1" height="874.00" fill="#000"/>
<rect x="1428.00" y="981.00" width="1" height="12.00" fill="#000"/>
<rect x="1458.00" y="981.00" width="1" height="12.00" fill="#000"/>
<rect x="1488.00" y="981.00" width="1" height="12.00" fill="#000"/>
<rect x="1518.00" y="981.00" width="1" height="12.00" fill="#000"/>
<rect x="1548.00" y="969.00" width="1" height="24.00" fill="#000"/>
<rect x="1578.00" y="981.00" width="1" height="12.00" fill="#000"/>
<rect x="1608.00" y="981.00" width="1" height="12.00" fill="#000"/>
<rect x="1638.00" y="981.00" width="1" height="12.00" fill="#000"/>
<rect x="1668.00" y="981.00" width="1" height="12.00" fill="#000"/>
<rect x="1698.00" y="969.00" width="1" height="24.00" fill="#000"/>
<rect x="1728.00" y="981.00" width="1" height="12.00" fill="#000"/>
<rect x="1758.00" y="981.00" width="1" height="12.00" fill="#000"/>
<rect x="1788.00" y="981.00" width="1" height="12.00" fill="#000"/>
<rect x="1818.00" y="981.00" width="1" height="12.00" fill="#000"/>
<rect x="1848.00" y="969.00" width="1" height="24.00" fill="#000"/>
<rect x="1878.00" y="981.00" width="1" height="12.00" fill="#000"/>
<rect x="1908.00" y="981.00" width="1" height="12.00" fill="#000"/>
<rect x="1938.00" y="981.00" width="1" height="12.00" fill="#000"/>
<rect x="1968.00" y="981.00" width="1" height="12.00" fill="#000"/>
<rect x="1998.00" y="969.00" width="1" height="24.00" fill="#000"/>
<rect x="2028.00" y="981.00" width="1" height="12.00" fill="#000"/>
<rect x="2058.00" y="981.00" width="1" height="12.00" fill="#000"/>
<rect x="2088.00" y="981.00" width="1" height="12.00" fill="#000"/>
<rect x="2118.00" y="981.00" width="1" height="12.00" fill="#000"/>
<rect x="2148.00" y="969.00" width="1" height="24.00" fill="#000"/>
<rect x="2178.00" y="981.00" width="1" height="12.00" fill="#000"/>
<rect x="2208.00" y="981.00" width="1" height="12.00" fill="#000"/>
<rect x="2238.00" y="981.00" width="1" height="12.00" fill="#000"/>
<rect x="2268.00" y="981.00" width="1" height="12.00" fill="#000"/>
<rect x="1398.00" y="973.00" width="15.00" height="1" fill="#000"/>
<rect x="1398.00" y="953.00" width="15.00" height="1" fill="#000"/>
<rect x="1398.00" y="933.00" width="15.00" height="1" fill="#000"/>
<rect x="1398.00" y="914.00" width="15.00" height="1" fill="#000"/>
<rect x="1398.00" y="894.00" width="27.00" height="1" fill="#000"/>
<rect x="1398.00" y="873.00" width="15.00" height="1" fill="#000"/>
<rect x="1398.00" y="853.00" width="15.00" height="1" fill="#000"/>
<rect x="1398.00" y="833.00" width="15.00" height="1" fill="#000"/>
<rect x="1398.00" y="812.00" width="15.00" height="1" fill="#000"/>
<rect x="1398.00" y="792.00" width="27.00" height="1" fill="#000"/>
<rect x="1398.00" y="772.00" width="15.00" height="1" fill="#000"/>
<rect x="1398.00" y="751.00" width="15.00" height="1" fill="#000"/>
<rect x="1398.00" y="731.00" width="15.00" height="1" fill="#000"/>
<rect x="1398.00" y="710.00" width="15.00" height="1" fill="#000"/>
<rect x="1398.00" y="690.00" width="27.00" height="1" fill="#000"/>
<rect x="1398.00" y="670.00" width="15.00" height="1" fill="#000"/>
<rect x="1398.00" y="649.00" width="15.00" height="1" fill="#000"/>
<rect x="1398.00" y="629.00" width="15.00" height="1" fill="#000"/>
<rect x="1398.00" y="608.00" width="15.00" height="1" fill="#000"/>
<rect x="1398.00" y="588.00" width="27.00" height="1" fill="#000"/>
<rect x="1398.00" y="568.00" width="15.00" height="1" fill="#000"/>
<rect x="1398.00" y="547.00" width="15.00" height="1" fill="#000"/>
<rect x="1398.00" y="527.00" width="15.00" height="1" fill="#000"/>
<rect x="1398.00" y="507.00" width="15.00" height="1" fill="#000"/>
<rect x="1398.00" y="486.00" width="27.00" height="1" fill="#000"/>
<rect x="1398.00" y="466.00" width="15.00" height="1" fill="#000"/>
<rect x="1398.00" y="446.00" width="15.00" height="1" fill="#000"/>
<rect x="1398.00" y="426.00" width="15.00" height="1" fill="#000"/>
<rect x="1398.00" y="405.00" width="15.00" height="1" fill="#000"/>
<rect x="1398.00" y="385.00" width="27.00" height="1" fill="#000"/>
<rect x="1398.00" y="365.00" width="15.00" height="1" fill="#000"/>
<rect x="1398.00" y="345.00" width="15.00" height="1" fill="#000"/>
<rect x="1398.00" y="324.00" width="15.00" height="1" fill="#000"/>
<rect x="1398.00" y="304.00" width="15.00" height="1" fill="#000"/>
<rect x="1398.00" y="284.00" width="27.00" height="1" fill="#000"/>
<rect x="1398.00" y="264.00" width="15.00" height="1" fill="#000"/>
<rect x="1398.00" y="243.00" width="15.00" height="1" fill="#000"/>
<rect x="1398.00" y="223.00" width="15.00" height="1" fill="#000"/>
<rect x="1398.00" y="203.00" width="15.00" height="1" fill="#000"/>
<rect x="1398.00" y="183.00" width="27.00" height="1" fill="#000"/>
<rect x="1398.00" y="162.00" width="15.00" height="1" fill="#000"/>
<rect x="1398.00" y="142.00" width="15.00" height="1" fill="#000"/>
<rect x="1398.00" y="122.00" width="15.00" height="1" fill="#000"/>
</g>
<text transform="translate(1397.10 1028.80) scale(1 1.035)" font-size="34.5" text-anchor="middle" font-family="Liberation Sans, sans-serif">0</text>
<text transform="translate(1547.10 1028.80) scale(1 1.035)" font-size="34.5" text-anchor="middle" font-family="Liberation Sans, sans-serif">100</text>
<text transform="translate(1697.10 1028.80) scale(1 1.035)" font-size="34.5" text-anchor="middle" font-family="Liberation Sans, sans-serif">200</text>
<text transform="translate(1847.10 1028.80) scale(1 1.035)" font-size="34.5" text-anchor="middle" font-family="Liberation Sans, sans-serif">300</text>
<text transform="translate(1997.10 1028.80) scale(1 1.035)" font-size="34.5" text-anchor="middle" font-family="Liberation Sans, sans-serif">400</text>
<text transform="translate(2147.10 1028.80) scale(1 1.035)" font-size="34.5" text-anchor="middle" font-family="Liberation Sans, sans-serif">500</text>
<text transform="translate(2297.10 1028.80) scale(1 1.035)" font-size="34.5" text-anchor="middle" font-family="Liberation Sans, sans-serif">600</text>
<text transform="translate(1388.00 1008.50) scale(1 1.035)" font-size="34.5" text-anchor="end" font-family="Liberation Sans, sans-serif">0</text>
<text transform="translate(1388.00 909.20) scale(1 1.035)" font-size="34.5" text-anchor="end" font-family="Liberation Sans, sans-serif">500</text>
<text transform="translate(1388.00 807.60) scale(1 1.035)" font-size="34.5" text-anchor="end" font-family="Liberation Sans, sans-serif">1000</text>
<text transform="translate(1388.00 705.60) scale(1 1.035)" font-size="34.5" text-anchor="end" font-family="Liberation Sans, sans-serif">1500</text>
<text transform="translate(1388.00 603.60) scale(1 1.035)" font-size="34.5" text-anchor="end" font-family="Liberation Sans, sans-serif">2000</text>
<text transform="translate(1388.00 502.00) scale(1 1.035)" font-size="34.5" text-anchor="end" font-family="Liberation Sans, sans-serif">2500</text>
<text transform="translate(1388.00 400.70) scale(1 1.035)" font-size="34.5" text-anchor="end" font-family="Liberation Sans, sans-serif">3000</text>
<text transform="translate(1388.00 299.40) scale(1 1.035)" font-size="34.5" text-anchor="end" font-family="Liberation Sans, sans-serif">3500</text>
<text transform="translate(1388.00 198.10) scale(1 1.035)" font-size="34.5" text-anchor="end" font-family="Liberation Sans, sans-serif">4000</text>
<text transform="translate(1289.00 126.30) rotate(-90) scale(1 1.035)" font-size="34.5" text-anchor="end" font-family="Liberation Sans, sans-serif">Events / ( 20 )</text>
<text transform="translate(2259.00 1062.00) scale(1 1.035)" font-size="34.5" text-anchor="start" font-family="Liberation Sans, sans-serif">p</text>
<text transform="translate(2280.50 1049.30) scale(1 1.035)" font-size="21" text-anchor="start" font-family="Liberation Sans, sans-serif">V</text>
<text transform="translate(2280.50 1082.70) scale(1 1.035)" font-size="21" text-anchor="start" font-family="Liberation Sans, sans-serif">T</text>
<text transform="translate(1433.30 60.50) scale(1 1.03)" font-size="42.05" text-anchor="start" font-family="Liberation Sans, sans-serif">Morphed templates for selected values</text>
<rect x="1941" y="170.5" width="64" height="1" fill="#00ff00" shape-rendering="crispEdges"/>
<text transform="translate(2016.00 180.00) scale(1 1.035)" font-size="39" text-anchor="start" font-family="Liberation Sans, sans-serif">c</text>
<text transform="translate(2037.60 197.80) scale(1 1.035)" font-size="25.3" text-anchor="start" font-family="Liberation Sans, sans-serif">Hq</text>
<text transform="translate(2069.60 181.20) scale(1 1.035)" font-size="17" text-anchor="start" font-family="Liberation Sans, sans-serif">(3)</text>
<text transform="translate(2092.60 180.00) scale(1 1.075)" font-size="37.8" text-anchor="start" font-family="Liberation Sans, sans-serif">=0.01</text>
<rect x="1941" y="251.6" width="64" height="1" fill="#00cc00" shape-rendering="crispEdges"/>
<text transform="translate(2016.00 261.10) scale(1 1.035)" font-size="39" text-anchor="start" font-family="Liberation Sans, sans-serif">c</text>
<text transform="translate(2037.60 278.90) scale(1 1.035)" font-size="25.3" text-anchor="start" font-family="Liberation Sans, sans-serif">Hq</text>
<text transform="translate(2069.60 262.30) scale(1 1.035)" font-size="17" text-anchor="start" font-family="Liberation Sans, sans-serif">(3)</text>
<text transform="translate(2092.60 261.10) scale(1 1.075)" font-size="37.8" text-anchor="start" font-family="Liberation Sans, sans-serif">=0.25</text>
<rect x="1941" y="332.7" width="64" height="1" fill="#009900" shape-rendering="crispEdges"/>
<text transform="translate(2016.00 342.20) scale(1 1.035)" font-size="39" text-anchor="start" font-family="Liberation Sans, sans-serif">c</text>
<text transform="translate(2037.60 360.00) scale(1 1.035)" font-size="25.3" text-anchor="start" font-family="Liberation Sans, sans-serif">Hq</text>
<text transform="translate(2069.60 343.40) scale(1 1.035)" font-size="17" text-anchor="start" font-family="Liberation Sans, sans-serif">(3)</text>
<text transform="translate(2092.60 342.20) scale(1 1.075)" font-size="37.8" text-anchor="start" font-family="Liberation Sans, sans-serif">=0.5</text>
<g shape-rendering="crispEdges">
<rect x="2562" y="958" width="39" height="35" fill="rgb(138,138,138)"/>
<rect x="2601" y="958" width="40" height="35" fill="rgb(58,58,58)"/>
<rect x="2641" y="958" width="39" height="35" fill="rgb(19,19,19)"/>
<rect x="2680" y="958" width="39" height="35" fill="rgb(20,20,20)"/>
<rect x="2719" y="958" width="39" height="35" fill="rgb(37,37,37)"/>
<rect x="2758" y="958" width="40" height="35" fill="rgb(54,54,54)"/>
<rect x="2798" y="958" width="39" height="35" fill="rgb(72,72,72)"/>
<rect x="2837" y="958" width="39" height="35" fill="rgb(82,82,82)"/>
<rect x="2876" y="958" width="40" height="35" fill="rgb(108,108,108)"/>
<rect x="2916" y="958" width="39" height="35" fill="rgb(110,110,110)"/>
<rect x="2955" y="958" width="39" height="35" fill="rgb(128,128,128)"/>
<rect x="2994" y="958" width="40" height="35" fill="rgb(136,136,136)"/>
<rect x="3034" y="958" width="39" height="35" fill="rgb(138,138,138)"/>
<rect x="3073" y="958" width="39" height="35" fill="rgb(158,158,158)"/>
<rect x="3112" y="958" width="40" height="35" fill="rgb(163,163,163)"/>
<rect x="3152" y="958" width="39" height="35" fill="rgb(200,200,200)"/>
<rect x="3191" y="958" width="39" height="35" fill="rgb(222,222,222)"/>
<rect x="3230" y="958" width="39" height="35" fill="rgb(232,232,232)"/>
<rect x="3269" y="958" width="40" height="35" fill="rgb(192,192,192)"/>
<rect x="3309" y="958" width="39" height="35" fill="rgb(255,255,255)"/>
<rect x="2562" y="923" width="39" height="35" fill="rgb(126,126,126)"/>
<rect x="2601" y="923" width="40" height="35" fill="rgb(59,59,59)"/>
<rect x="2641" y="923" width="39" height="35" fill="rgb(19,19,19)"/>
<rect x="2680" y="923" width="39" height="35" fill="rgb(19,19,19)"/>
<rect x="2719" y="923" width="39" height="35" fill="rgb(36,36,36)"/>
<rect x="2758" y="923" width="40" height="35" fill="rgb(55,55,55)"/>
<rect x="2798" y="923" width="39" height="35" fill="rgb(74,74,74)"/>
<rect x="2837" y="923" width="39" height="35" fill="rgb(84,84,84)"/>
<rect x="2876" y="923" width="40" height="35" fill="rgb(98,98,98)"/>
<rect x="2916" y="923" width="39" height="35" fill="rgb(112,112,112)"/>
<rect x="2955" y="923" width="39" height="35" fill="rgb(138,138,138)"/>
<rect x="2994" y="923" width="40" height="35" fill="rgb(135,135,135)"/>
<rect x="3034" y="923" width="39" height="35" fill="rgb(137,137,137)"/>
<rect x="3073" y="923" width="39" height="35" fill="rgb(160,160,160)"/>
<rect x="3112" y="923" width="40" height="35" fill="rgb(168,168,168)"/>
<rect x="3152" y="923" width="39" height="35" fill="rgb(184,184,184)"/>
<rect x="3191" y="923" width="39" height="35" fill="rgb(208,208,208)"/>
<rect x="3230" y="923" width="39" height="35" fill="rgb(200,200,200)"/>
<rect x="3269" y="923" width="40" height="35" fill="rgb(206,206,206)"/>
<rect x="3309" y="923" width="39" height="35" fill="rgb(212,212,212)"/>
<rect x="2562" y="888" width="39" height="35" fill="rgb(134,134,134)"/>
<rect x="2601" y="888" width="40" height="35" fill="rgb(58,58,58)"/>
<rect x="2641" y="888" width="39" height="35" fill="rgb(18,18,18)"/>
<rect x="2680" y="888" width="39" height="35" fill="rgb(19,19,19)"/>
<rect x="2719" y="888" width="39" height="35" fill="rgb(35,35,35)"/>
<rect x="2758" y="888" width="40" height="35" fill="rgb(52,52,52)"/>
<rect x="2798" y="888" width="39" height="35" fill="rgb(67,67,67)"/>
<rect x="2837" y="888" width="39" height="35" fill="rgb(82,82,82)"/>
<rect x="2876" y="888" width="40" height="35" fill="rgb(98,98,98)"/>
<rect x="2916" y="888" width="39" height="35" fill="rgb(106,106,106)"/>
<rect x="2955" y="888" width="39" height="35" fill="rgb(124,124,124)"/>
<rect x="2994" y="888" width="40" height="35" fill="rgb(134,134,134)"/>
<rect x="3034" y="888" width="39" height="35" fill="rgb(140,140,140)"/>
<rect x="3073" y="888" width="39" height="35" fill="rgb(138,138,138)"/>
<rect x="3112" y="888" width="40" height="35" fill="rgb(160,160,160)"/>
<rect x="3152" y="888" width="39" height="35" fill="rgb(176,176,176)"/>
<rect x="3191" y="888" width="39" height="35" fill="rgb(192,192,192)"/>
<rect x="3230" y="888" width="39" height="35" fill="rgb(208,208,208)"/>
<rect x="3269" y="888" width="40" height="35" fill="rgb(255,255,255)"/>
<rect x="3309" y="888" width="39" height="35" fill="rgb(255,255,255)"/>
<rect x="2562" y="853" width="39" height="35" fill="rgb(134,134,134)"/>
<rect x="2601" y="853" width="40" height="35" fill="rgb(58,58,58)"/>
<rect x="2641" y="853" width="39" height="35" fill="rgb(18,18,18)"/>
<rect x="2680" y="853" width="39" height="35" fill="rgb(18,18,18)"/>
<rect x="2719" y="853" width="39" height="35" fill="rgb(35,35,35)"/>
<rect x="2758" y="853" width="40" height="35" fill="rgb(51,51,51)"/>
<rect x="2798" y="853" width="39" height="35" fill="rgb(67,67,67)"/>
<rect x="2837" y="853" width="39" height="35" fill="rgb(84,84,84)"/>
<rect x="2876" y="853" width="40" height="35" fill="rgb(98,98,98)"/>
<rect x="2916" y="853" width="39" height="35" fill="rgb(110,110,110)"/>
<rect x="2955" y="853" width="39" height="35" fill="rgb(126,126,126)"/>
<rect x="2994" y="853" width="40" height="35" fill="rgb(122,122,122)"/>
<rect x="3034" y="853" width="39" height="35" fill="rgb(124,124,124)"/>
<rect x="3073" y="853" width="39" height="35" fill="rgb(144,144,144)"/>
<rect x="3112" y="853" width="40" height="35" fill="rgb(144,144,144)"/>
<rect x="3152" y="853" width="39" height="35" fill="rgb(164,164,164)"/>
<rect x="3191" y="853" width="39" height="35" fill="rgb(160,160,160)"/>
<rect x="3230" y="853" width="39" height="35" fill="rgb(186,186,186)"/>
<rect x="3269" y="853" width="40" height="35" fill="rgb(196,196,196)"/>
<rect x="3309" y="853" width="39" height="35" fill="rgb(206,206,206)"/>
<rect x="2562" y="818" width="39" height="35" fill="rgb(134,134,134)"/>
<rect x="2601" y="818" width="40" height="35" fill="rgb(56,56,56)"/>
<rect x="2641" y="818" width="39" height="35" fill="rgb(17,17,17)"/>
<rect x="2680" y="818" width="39" height="35" fill="rgb(17,17,17)"/>
<rect x="2719" y="818" width="39" height="35" fill="rgb(33,33,33)"/>
<rect x="2758" y="818" width="40" height="35" fill="rgb(47,47,47)"/>
<rect x="2798" y="818" width="39" height="35" fill="rgb(67,67,67)"/>
<rect x="2837" y="818" width="39" height="35" fill="rgb(76,76,76)"/>
<rect x="2876" y="818" width="40" height="35" fill="rgb(94,94,94)"/>
<rect x="2916" y="818" width="39" height="35" fill="rgb(102,102,102)"/>
<rect x="2955" y="818" width="39" height="35" fill="rgb(120,120,120)"/>
<rect x="2994" y="818" width="40" height="35" fill="rgb(112,112,112)"/>
<rect x="3034" y="818" width="39" height="35" fill="rgb(140,140,140)"/>
<rect x="3073" y="818" width="39" height="35" fill="rgb(142,142,142)"/>
<rect x="3112" y="818" width="40" height="35" fill="rgb(142,142,142)"/>
<rect x="3152" y="818" width="39" height="35" fill="rgb(176,176,176)"/>
<rect x="3191" y="818" width="39" height="35" fill="rgb(164,164,164)"/>
<rect x="3230" y="818" width="39" height="35" fill="rgb(196,196,196)"/>
<rect x="3269" y="818" width="40" height="35" fill="rgb(208,208,208)"/>
<rect x="3309" y="818" width="39" height="35" fill="rgb(196,196,196)"/>
<rect x="2562" y="783" width="39" height="35" fill="rgb(124,124,124)"/>
<rect x="2601" y="783" width="40" height="35" fill="rgb(54,54,54)"/>
<rect x="2641" y="783" width="39" height="35" fill="rgb(16,16,16)"/>
<rect x="2680" y="783" width="39" height="35" fill="rgb(17,17,17)"/>
<rect x="2719" y="783" width="39" height="35" fill="rgb(33,33,33)"/>
<rect x="2758" y="783" width="40" height="35" fill="rgb(45,45,45)"/>
<rect x="2798" y="783" width="39" height="35" fill="rgb(64,64,64)"/>
<rect x="2837" y="783" width="39" height="35" fill="rgb(74,74,74)"/>
<rect x="2876" y="783" width="40" height="35" fill="rgb(92,92,92)"/>
<rect x="2916" y="783" width="39" height="35" fill="rgb(96,96,96)"/>
<rect x="2955" y="783" width="39" height="35" fill="rgb(114,114,114)"/>
<rect x="2994" y="783" width="40" height="35" fill="rgb(116,116,116)"/>
<rect x="3034" y="783" width="39" height="35" fill="rgb(124,124,124)"/>
<rect x="3073" y="783" width="39" height="35" fill="rgb(144,144,144)"/>
<rect x="3112" y="783" width="40" height="35" fill="rgb(128,128,128)"/>
<rect x="3152" y="783" width="39" height="35" fill="rgb(152,152,152)"/>
<rect x="3191" y="783" width="39" height="35" fill="rgb(164,164,164)"/>
<rect x="3230" y="783" width="39" height="35" fill="rgb(180,180,180)"/>
<rect x="3269" y="783" width="40" height="35" fill="rgb(184,184,184)"/>
<rect x="3309" y="783" width="39" height="35" fill="rgb(196,196,196)"/>
<rect x="2562" y="749" width="39" height="34" fill="rgb(132,132,132)"/>
<rect x="2601" y="749" width="40" height="34" fill="rgb(55,55,55)"/>
<rect x="2641" y="749" width="39" height="34" fill="rgb(15,15,15)"/>
<rect x="2680" y="749" width="39" height="34" fill="rgb(16,16,16)"/>
<rect x="2719" y="749" width="39" height="34" fill="rgb(31,31,31)"/>
<rect x="2758" y="749" width="40" height="34" fill="rgb(44,44,44)"/>
<rect x="2798" y="749" width="39" height="34" fill="rgb(62,62,62)"/>
<rect x="2837" y="749" width="39" height="34" fill="rgb(72,72,72)"/>
<rect x="2876" y="749" width="40" height="34" fill="rgb(84,84,84)"/>
<rect x="2916" y="749" width="39" height="34" fill="rgb(88,88,88)"/>
<rect x="2955" y="749" width="39" height="34" fill="rgb(102,102,102)"/>
<rect x="2994" y="749" width="40" height="34" fill="rgb(110,110,110)"/>
<rect x="3034" y="749" width="39" height="34" fill="rgb(116,116,116)"/>
<rect x="3073" y="749" width="39" height="34" fill="rgb(116,116,116)"/>
<rect x="3112" y="749" width="40" height="34" fill="rgb(132,132,132)"/>
<rect x="3152" y="749" width="39" height="34" fill="rgb(148,148,148)"/>
<rect x="3191" y="749" width="39" height="34" fill="rgb(152,152,152)"/>
<rect x="3230" y="749" width="39" height="34" fill="rgb(168,168,168)"/>
<rect x="3269" y="749" width="40" height="34" fill="rgb(180,180,180)"/>
<rect x="3309" y="749" width="39" height="34" fill="rgb(204,204,204)"/>
<rect x="2562" y="714" width="39" height="35" fill="rgb(134,134,134)"/>
<rect x="2601" y="714" width="40" height="35" fill="rgb(54,54,54)"/>
<rect x="2641" y="714" width="39" height="35" fill="rgb(14,14,14)"/>
<rect x="2680" y="714" width="39" height="35" fill="rgb(13,13,13)"/>
<rect x="2719" y="714" width="39" height="35" fill="rgb(30,30,30)"/>
<rect x="2758" y="714" width="40" height="35" fill="rgb(43,43,43)"/>
<rect x="2798" y="714" width="39" height="35" fill="rgb(58,58,58)"/>
<rect x="2837" y="714" width="39" height="35" fill="rgb(64,64,64)"/>
<rect x="2876" y="714" width="40" height="35" fill="rgb(84,84,84)"/>
<rect x="2916" y="714" width="39" height="35" fill="rgb(86,86,86)"/>
<rect x="2955" y="714" width="39" height="35" fill="rgb(102,102,102)"/>
<rect x="2994" y="714" width="40" height="35" fill="rgb(100,100,100)"/>
<rect x="3034" y="714" width="39" height="35" fill="rgb(108,108,108)"/>
<rect x="3073" y="714" width="39" height="35" fill="rgb(118,118,118)"/>
<rect x="3112" y="714" width="40" height="35" fill="rgb(122,122,122)"/>
<rect x="3152" y="714" width="39" height="35" fill="rgb(134,134,134)"/>
<rect x="3191" y="714" width="39" height="35" fill="rgb(156,156,156)"/>
<rect x="3230" y="714" width="39" height="35" fill="rgb(168,168,168)"/>
<rect x="3269" y="714" width="40" height="35" fill="rgb(176,176,176)"/>
<rect x="3309" y="714" width="39" height="35" fill="rgb(168,168,168)"/>
<rect x="2562" y="679" width="39" height="35" fill="rgb(126,126,126)"/>
<rect x="2601" y="679" width="40" height="35" fill="rgb(53,53,53)"/>
<rect x="2641" y="679" width="39" height="35" fill="rgb(14,14,14)"/>
<rect x="2680" y="679" width="39" height="35" fill="rgb(13,13,13)"/>
<rect x="2719" y="679" width="39" height="35" fill="rgb(27,27,27)"/>
<rect x="2758" y="679" width="40" height="35" fill="rgb(41,41,41)"/>
<rect x="2798" y="679" width="39" height="35" fill="rgb(56,56,56)"/>
<rect x="2837" y="679" width="39" height="35" fill="rgb(66,66,66)"/>
<rect x="2876" y="679" width="40" height="35" fill="rgb(80,80,80)"/>
<rect x="2916" y="679" width="39" height="35" fill="rgb(86,86,86)"/>
<rect x="2955" y="679" width="39" height="35" fill="rgb(96,96,96)"/>
<rect x="2994" y="679" width="40" height="35" fill="rgb(98,98,98)"/>
<rect x="3034" y="679" width="39" height="35" fill="rgb(116,116,116)"/>
<rect x="3073" y="679" width="39" height="35" fill="rgb(120,120,120)"/>
<rect x="3112" y="679" width="40" height="35" fill="rgb(126,126,126)"/>
<rect x="3152" y="679" width="39" height="35" fill="rgb(130,130,130)"/>
<rect x="3191" y="679" width="39" height="35" fill="rgb(154,154,154)"/>
<rect x="3230" y="679" width="39" height="35" fill="rgb(154,154,154)"/>
<rect x="3269" y="679" width="40" height="35" fill="rgb(164,164,164)"/>
<rect x="3309" y="679" width="39" height="35" fill="rgb(180,180,180)"/>
<rect x="2562" y="644" width="39" height="35" fill="rgb(134,134,134)"/>
<rect x="2601" y="644" width="40" height="35" fill="rgb(53,53,53)"/>
<rect x="2641" y="644" width="39" height="35" fill="rgb(14,14,14)"/>
<rect x="2680" y="644" width="39" height="35" fill="rgb(12,12,12)"/>
<rect x="2719" y="644" width="39" height="35" fill="rgb(27,27,27)"/>
<rect x="2758" y="644" width="40" height="35" fill="rgb(40,40,40)"/>
<rect x="2798" y="644" width="39" height="35" fill="rgb(55,55,55)"/>
<rect x="2837" y="644" width="39" height="35" fill="rgb(66,66,66)"/>
<rect x="2876" y="644" width="40" height="35" fill="rgb(74,74,74)"/>
<rect x="2916" y="644" width="39" height="35" fill="rgb(80,80,80)"/>
<rect x="2955" y="644" width="39" height="35" fill="rgb(94,94,94)"/>
<rect x="2994" y="644" width="40" height="35" fill="rgb(94,94,94)"/>
<rect x="3034" y="644" width="39" height="35" fill="rgb(108,108,108)"/>
<rect x="3073" y="644" width="39" height="35" fill="rgb(108,108,108)"/>
<rect x="3112" y="644" width="40" height="35" fill="rgb(120,120,120)"/>
<rect x="3152" y="644" width="39" height="35" fill="rgb(128,128,128)"/>
<rect x="3191" y="644" width="39" height="35" fill="rgb(134,134,134)"/>
<rect x="3230" y="644" width="39" height="35" fill="rgb(166,166,166)"/>
<rect x="3269" y="644" width="40" height="35" fill="rgb(164,164,164)"/>
<rect x="3309" y="644" width="39" height="35" fill="rgb(168,168,168)"/>
<rect x="2562" y="609" width="39" height="35" fill="rgb(132,132,132)"/>
<rect x="2601" y="609" width="40" height="35" fill="rgb(53,53,53)"/>
<rect x="2641" y="609" width="39" height="35" fill="rgb(13,13,13)"/>
<rect x="2680" y="609" width="39" height="35" fill="rgb(11,11,11)"/>
<rect x="2719" y="609" width="39" height="35" fill="rgb(26,26,26)"/>
<rect x="2758" y="609" width="40" height="35" fill="rgb(35,35,35)"/>
<rect x="2798" y="609" width="39" height="35" fill="rgb(53,53,53)"/>
<rect x="2837" y="609" width="39" height="35" fill="rgb(62,62,62)"/>
<rect x="2876" y="609" width="40" height="35" fill="rgb(70,70,70)"/>
<rect x="2916" y="609" width="39" height="35" fill="rgb(78,78,78)"/>
<rect x="2955" y="609" width="39" height="35" fill="rgb(89,89,89)"/>
<rect x="2994" y="609" width="40" height="35" fill="rgb(88,88,88)"/>
<rect x="3034" y="609" width="39" height="35" fill="rgb(106,106,106)"/>
<rect x="3073" y="609" width="39" height="35" fill="rgb(106,106,106)"/>
<rect x="3112" y="609" width="40" height="35" fill="rgb(118,118,118)"/>
<rect x="3152" y="609" width="39" height="35" fill="rgb(140,140,140)"/>
<rect x="3191" y="609" width="39" height="35" fill="rgb(140,140,140)"/>
<rect x="3230" y="609" width="39" height="35" fill="rgb(150,150,150)"/>
<rect x="3269" y="609" width="40" height="35" fill="rgb(160,160,160)"/>
<rect x="3309" y="609" width="39" height="35" fill="rgb(166,166,166)"/>
<rect x="2562" y="574" width="39" height="35" fill="rgb(132,132,132)"/>
<rect x="2601" y="574" width="40" height="35" fill="rgb(51,51,51)"/>
<rect x="2641" y="574" width="39" height="35" fill="rgb(13,13,13)"/>
<rect x="2680" y="574" width="39" height="35" fill="rgb(10,10,10)"/>
<rect x="2719" y="574" width="39" height="35" fill="rgb(25,25,25)"/>
<rect x="2758" y="574" width="40" height="35" fill="rgb(36,36,36)"/>
<rect x="2798" y="574" width="39" height="35" fill="rgb(52,52,52)"/>
<rect x="2837" y="574" width="39" height="35" fill="rgb(62,62,62)"/>
<rect x="2876" y="574" width="40" height="35" fill="rgb(72,72,72)"/>
<rect x="2916" y="574" width="39" height="35" fill="rgb(76,76,76)"/>
<rect x="2955" y="574" width="39" height="35" fill="rgb(90,90,90)"/>
<rect x="2994" y="574" width="40" height="35" fill="rgb(94,94,94)"/>
<rect x="3034" y="574" width="39" height="35" fill="rgb(102,102,102)"/>
<rect x="3073" y="574" width="39" height="35" fill="rgb(108,108,108)"/>
<rect x="3112" y="574" width="40" height="35" fill="rgb(116,116,116)"/>
<rect x="3152" y="574" width="39" height="35" fill="rgb(122,122,122)"/>
<rect x="3191" y="574" width="39" height="35" fill="rgb(136,136,136)"/>
<rect x="3230" y="574" width="39" height="35" fill="rgb(144,144,144)"/>
<rect x="3269" y="574" width="40" height="35" fill="rgb(160,160,160)"/>
<rect x="3309" y="574" width="39" height="35" fill="rgb(156,156,156)"/>
<rect x="2562" y="539" width="39" height="35" fill="rgb(128,128,128)"/>
<rect x="2601" y="539" width="40" height="35" fill="rgb(50,50,50)"/>
<rect x="2641" y="539" width="39" height="35" fill="rgb(12,12,12)"/>
<rect x="2680" y="539" width="39" height="35" fill="rgb(11,11,11)"/>
<rect x="2719" y="539" width="39" height="35" fill="rgb(24,24,24)"/>
<rect x="2758" y="539" width="40" height="35" fill="rgb(34,34,34)"/>
<rect x="2798" y="539" width="39" height="35" fill="rgb(49,49,49)"/>
<rect x="2837" y="539" width="39" height="35" fill="rgb(55,55,55)"/>
<rect x="2876" y="539" width="40" height="35" fill="rgb(66,66,66)"/>
<rect x="2916" y="539" width="39" height="35" fill="rgb(72,72,72)"/>
<rect x="2955" y="539" width="39" height="35" fill="rgb(82,82,82)"/>
<rect x="2994" y="539" width="40" height="35" fill="rgb(78,78,78)"/>
<rect x="3034" y="539" width="39" height="35" fill="rgb(104,104,104)"/>
<rect x="3073" y="539" width="39" height="35" fill="rgb(110,110,110)"/>
<rect x="3112" y="539" width="40" height="35" fill="rgb(112,112,112)"/>
<rect x="3152" y="539" width="39" height="35" fill="rgb(118,118,118)"/>
<rect x="3191" y="539" width="39" height="35" fill="rgb(138,138,138)"/>
<rect x="3230" y="539" width="39" height="35" fill="rgb(148,148,148)"/>
<rect x="3269" y="539" width="40" height="35" fill="rgb(148,148,148)"/>
<rect x="3309" y="539" width="39" height="35" fill="rgb(168,168,168)"/>
<rect x="2562" y="504" width="39" height="35" fill="rgb(134,134,134)"/>
<rect x="2601" y="504" width="40" height="35" fill="rgb(52,52,52)"/>
<rect x="2641" y="504" width="39" height="35" fill="rgb(11,11,11)"/>
<rect x="2680" y="504" width="39" height="35" fill="rgb(10,10,10)"/>
<rect x="2719" y="504" width="39" height="35" fill="rgb(23,23,23)"/>
<rect x="2758" y="504" width="40" height="35" fill="rgb(33,33,33)"/>
<rect x="2798" y="504" width="39" height="35" fill="rgb(47,47,47)"/>
<rect x="2837" y="504" width="39" height="35" fill="rgb(57,57,57)"/>
<rect x="2876" y="504" width="40" height="35" fill="rgb(64,64,64)"/>
<rect x="2916" y="504" width="39" height="35" fill="rgb(69,69,69)"/>
<rect x="2955" y="504" width="39" height="35" fill="rgb(84,84,84)"/>
<rect x="2994" y="504" width="40" height="35" fill="rgb(76,76,76)"/>
<rect x="3034" y="504" width="39" height="35" fill="rgb(88,88,88)"/>
<rect x="3073" y="504" width="39" height="35" fill="rgb(94,94,94)"/>
<rect x="3112" y="504" width="40" height="35" fill="rgb(102,102,102)"/>
<rect x="3152" y="504" width="39" height="35" fill="rgb(122,122,122)"/>
<rect x="3191" y="504" width="39" height="35" fill="rgb(128,128,128)"/>
<rect x="3230" y="504" width="39" height="35" fill="rgb(136,136,136)"/>
<rect x="3269" y="504" width="40" height="35" fill="rgb(158,158,158)"/>
<rect x="3309" y="504" width="39" height="35" fill="rgb(171,171,171)"/>
<rect x="2562" y="469" width="39" height="35" fill="rgb(120,120,120)"/>
<rect x="2601" y="469" width="40" height="35" fill="rgb(47,47,47)"/>
<rect x="2641" y="469" width="39" height="35" fill="rgb(11,11,11)"/>
<rect x="2680" y="469" width="39" height="35" fill="rgb(9,9,9)"/>
<rect x="2719" y="469" width="39" height="35" fill="rgb(22,22,22)"/>
<rect x="2758" y="469" width="40" height="35" fill="rgb(33,33,33)"/>
<rect x="2798" y="469" width="39" height="35" fill="rgb(43,43,43)"/>
<rect x="2837" y="469" width="39" height="35" fill="rgb(51,51,51)"/>
<rect x="2876" y="469" width="40" height="35" fill="rgb(60,60,60)"/>
<rect x="2916" y="469" width="39" height="35" fill="rgb(66,66,66)"/>
<rect x="2955" y="469" width="39" height="35" fill="rgb(78,78,78)"/>
<rect x="2994" y="469" width="40" height="35" fill="rgb(76,76,76)"/>
<rect x="3034" y="469" width="39" height="35" fill="rgb(94,94,94)"/>
<rect x="3073" y="469" width="39" height="35" fill="rgb(92,92,92)"/>
<rect x="3112" y="469" width="40" height="35" fill="rgb(94,94,94)"/>
<rect x="3152" y="469" width="39" height="35" fill="rgb(116,116,116)"/>
<rect x="3191" y="469" width="39" height="35" fill="rgb(128,128,128)"/>
<rect x="3230" y="469" width="39" height="35" fill="rgb(142,142,142)"/>
<rect x="3269" y="469" width="40" height="35" fill="rgb(162,162,162)"/>
<rect x="3309" y="469" width="39" height="35" fill="rgb(158,158,158)"/>
<rect x="2562" y="434" width="39" height="35" fill="rgb(120,120,120)"/>
<rect x="2601" y="434" width="40" height="35" fill="rgb(49,49,49)"/>
<rect x="2641" y="434" width="39" height="35" fill="rgb(10,10,10)"/>
<rect x="2680" y="434" width="39" height="35" fill="rgb(8,8,8)"/>
<rect x="2719" y="434" width="39" height="35" fill="rgb(22,22,22)"/>
<rect x="2758" y="434" width="40" height="35" fill="rgb(30,30,30)"/>
<rect x="2798" y="434" width="39" height="35" fill="rgb(43,43,43)"/>
<rect x="2837" y="434" width="39" height="35" fill="rgb(51,51,51)"/>
<rect x="2876" y="434" width="40" height="35" fill="rgb(60,60,60)"/>
<rect x="2916" y="434" width="39" height="35" fill="rgb(70,70,70)"/>
<rect x="2955" y="434" width="39" height="35" fill="rgb(72,72,72)"/>
<rect x="2994" y="434" width="40" height="35" fill="rgb(74,74,74)"/>
<rect x="3034" y="434" width="39" height="35" fill="rgb(86,86,86)"/>
<rect x="3073" y="434" width="39" height="35" fill="rgb(92,92,92)"/>
<rect x="3112" y="434" width="40" height="35" fill="rgb(98,98,98)"/>
<rect x="3152" y="434" width="39" height="35" fill="rgb(122,122,122)"/>
<rect x="3191" y="434" width="39" height="35" fill="rgb(122,122,122)"/>
<rect x="3230" y="434" width="39" height="35" fill="rgb(130,130,130)"/>
<rect x="3269" y="434" width="40" height="35" fill="rgb(144,144,144)"/>
<rect x="3309" y="434" width="39" height="35" fill="rgb(158,158,158)"/>
<rect x="2562" y="399" width="39" height="35" fill="rgb(118,118,118)"/>
<rect x="2601" y="399" width="40" height="35" fill="rgb(49,49,49)"/>
<rect x="2641" y="399" width="39" height="35" fill="rgb(9,9,9)"/>
<rect x="2680" y="399" width="39" height="35" fill="rgb(6,6,6)"/>
<rect x="2719" y="399" width="39" height="35" fill="rgb(19,19,19)"/>
<rect x="2758" y="399" width="40" height="35" fill="rgb(28,28,28)"/>
<rect x="2798" y="399" width="39" height="35" fill="rgb(37,37,37)"/>
<rect x="2837" y="399" width="39" height="35" fill="rgb(51,51,51)"/>
<rect x="2876" y="399" width="40" height="35" fill="rgb(58,58,58)"/>
<rect x="2916" y="399" width="39" height="35" fill="rgb(62,62,62)"/>
<rect x="2955" y="399" width="39" height="35" fill="rgb(70,70,70)"/>
<rect x="2994" y="399" width="40" height="35" fill="rgb(74,74,74)"/>
<rect x="3034" y="399" width="39" height="35" fill="rgb(76,76,76)"/>
<rect x="3073" y="399" width="39" height="35" fill="rgb(82,82,82)"/>
<rect x="3112" y="399" width="40" height="35" fill="rgb(98,98,98)"/>
<rect x="3152" y="399" width="39" height="35" fill="rgb(108,108,108)"/>
<rect x="3191" y="399" width="39" height="35" fill="rgb(120,120,120)"/>
<rect x="3230" y="399" width="39" height="35" fill="rgb(128,128,128)"/>
<rect x="3269" y="399" width="40" height="35" fill="rgb(136,136,136)"/>
<rect x="3309" y="399" width="39" height="35" fill="rgb(150,150,150)"/>
<rect x="2562" y="364" width="39" height="35" fill="rgb(122,122,122)"/>
<rect x="2601" y="364" width="40" height="35" fill="rgb(48,48,48)"/>
<rect x="2641" y="364" width="39" height="35" fill="rgb(8,8,8)"/>
<rect x="2680" y="364" width="39" height="35" fill="rgb(5,5,5)"/>
<rect x="2719" y="364" width="39" height="35" fill="rgb(19,19,19)"/>
<rect x="2758" y="364" width="40" height="35" fill="rgb(28,28,28)"/>
<rect x="2798" y="364" width="39" height="35" fill="rgb(37,37,37)"/>
<rect x="2837" y="364" width="39" height="35" fill="rgb(46,46,46)"/>
<rect x="2876" y="364" width="40" height="35" fill="rgb(54,54,54)"/>
<rect x="2916" y="364" width="39" height="35" fill="rgb(60,60,60)"/>
<rect x="2955" y="364" width="39" height="35" fill="rgb(67,67,67)"/>
<rect x="2994" y="364" width="40" height="35" fill="rgb(74,74,74)"/>
<rect x="3034" y="364" width="39" height="35" fill="rgb(74,74,74)"/>
<rect x="3073" y="364" width="39" height="35" fill="rgb(84,84,84)"/>
<rect x="3112" y="364" width="40" height="35" fill="rgb(86,86,86)"/>
<rect x="3152" y="364" width="39" height="35" fill="rgb(106,106,106)"/>
<rect x="3191" y="364" width="39" height="35" fill="rgb(112,112,112)"/>
<rect x="3230" y="364" width="39" height="35" fill="rgb(134,134,134)"/>
<rect x="3269" y="364" width="40" height="35" fill="rgb(134,134,134)"/>
<rect x="3309" y="364" width="39" height="35" fill="rgb(138,138,138)"/>
<rect x="2562" y="330" width="39" height="34" fill="rgb(106,106,106)"/>
<rect x="2601" y="330" width="40" height="34" fill="rgb(47,47,47)"/>
<rect x="2641" y="330" width="39" height="34" fill="rgb(8,8,8)"/>
<rect x="2680" y="330" width="39" height="34" fill="rgb(5,5,5)"/>
<rect x="2719" y="330" width="39" height="34" fill="rgb(19,19,19)"/>
<rect x="2758" y="330" width="40" height="34" fill="rgb(26,26,26)"/>
<rect x="2798" y="330" width="39" height="34" fill="rgb(36,36,36)"/>
<rect x="2837" y="330" width="39" height="34" fill="rgb(46,46,46)"/>
<rect x="2876" y="330" width="40" height="34" fill="rgb(54,54,54)"/>
<rect x="2916" y="330" width="39" height="34" fill="rgb(59,59,59)"/>
<rect x="2955" y="330" width="39" height="34" fill="rgb(66,66,66)"/>
<rect x="2994" y="330" width="40" height="34" fill="rgb(64,64,64)"/>
<rect x="3034" y="330" width="39" height="34" fill="rgb(78,78,78)"/>
<rect x="3073" y="330" width="39" height="34" fill="rgb(76,76,76)"/>
<rect x="3112" y="330" width="40" height="34" fill="rgb(88,88,88)"/>
<rect x="3152" y="330" width="39" height="34" fill="rgb(100,100,100)"/>
<rect x="3191" y="330" width="39" height="34" fill="rgb(106,106,106)"/>
<rect x="3230" y="330" width="39" height="34" fill="rgb(120,120,120)"/>
<rect x="3269" y="330" width="40" height="34" fill="rgb(128,128,128)"/>
<rect x="3309" y="330" width="39" height="34" fill="rgb(138,138,138)"/>
<rect x="2562" y="295" width="39" height="35" fill="rgb(122,122,122)"/>
<rect x="2601" y="295" width="40" height="35" fill="rgb(44,44,44)"/>
<rect x="2641" y="295" width="39" height="35" fill="rgb(7,7,7)"/>
<rect x="2680" y="295" width="39" height="35" fill="rgb(4,4,4)"/>
<rect x="2719" y="295" width="39" height="35" fill="rgb(17,17,17)"/>
<rect x="2758" y="295" width="40" height="35" fill="rgb(25,25,25)"/>
<rect x="2798" y="295" width="39" height="35" fill="rgb(35,35,35)"/>
<rect x="2837" y="295" width="39" height="35" fill="rgb(45,45,45)"/>
<rect x="2876" y="295" width="40" height="35" fill="rgb(51,51,51)"/>
<rect x="2916" y="295" width="39" height="35" fill="rgb(58,58,58)"/>
<rect x="2955" y="295" width="39" height="35" fill="rgb(68,68,68)"/>
<rect x="2994" y="295" width="40" height="35" fill="rgb(64,64,64)"/>
<rect x="3034" y="295" width="39" height="35" fill="rgb(80,80,80)"/>
<rect x="3073" y="295" width="39" height="35" fill="rgb(80,80,80)"/>
<rect x="3112" y="295" width="40" height="35" fill="rgb(86,86,86)"/>
<rect x="3152" y="295" width="39" height="35" fill="rgb(100,100,100)"/>
<rect x="3191" y="295" width="39" height="35" fill="rgb(106,106,106)"/>
<rect x="3230" y="295" width="39" height="35" fill="rgb(128,128,128)"/>
<rect x="3269" y="295" width="40" height="35" fill="rgb(134,134,134)"/>
<rect x="3309" y="295" width="39" height="35" fill="rgb(138,138,138)"/>
<rect x="2562" y="260" width="39" height="35" fill="rgb(116,116,116)"/>
<rect x="2601" y="260" width="40" height="35" fill="rgb(45,45,45)"/>
<rect x="2641" y="260" width="39" height="35" fill="rgb(7,7,7)"/>
<rect x="2680" y="260" width="39" height="35" fill="rgb(4,4,4)"/>
<rect x="2719" y="260" width="39" height="35" fill="rgb(17,17,17)"/>
<rect x="2758" y="260" width="40" height="35" fill="rgb(24,24,24)"/>
<rect x="2798" y="260" width="39" height="35" fill="rgb(34,34,34)"/>
<rect x="2837" y="260" width="39" height="35" fill="rgb(44,44,44)"/>
<rect x="2876" y="260" width="40" height="35" fill="rgb(50,50,50)"/>
<rect x="2916" y="260" width="39" height="35" fill="rgb(58,58,58)"/>
<rect x="2955" y="260" width="39" height="35" fill="rgb(64,64,64)"/>
<rect x="2994" y="260" width="40" height="35" fill="rgb(62,62,62)"/>
<rect x="3034" y="260" width="39" height="35" fill="rgb(72,72,72)"/>
<rect x="3073" y="260" width="39" height="35" fill="rgb(72,72,72)"/>
<rect x="3112" y="260" width="40" height="35" fill="rgb(88,88,88)"/>
<rect x="3152" y="260" width="39" height="35" fill="rgb(96,96,96)"/>
<rect x="3191" y="260" width="39" height="35" fill="rgb(98,98,98)"/>
<rect x="3230" y="260" width="39" height="35" fill="rgb(118,118,118)"/>
<rect x="3269" y="260" width="40" height="35" fill="rgb(132,132,132)"/>
<rect x="3309" y="260" width="39" height="35" fill="rgb(134,134,134)"/>
<rect x="2562" y="225" width="39" height="35" fill="rgb(122,122,122)"/>
<rect x="2601" y="225" width="40" height="35" fill="rgb(45,45,45)"/>
<rect x="2641" y="225" width="39" height="35" fill="rgb(6,6,6)"/>
<rect x="2680" y="225" width="39" height="35" fill="rgb(3,3,3)"/>
<rect x="2719" y="225" width="39" height="35" fill="rgb(15,15,15)"/>
<rect x="2758" y="225" width="40" height="35" fill="rgb(23,23,23)"/>
<rect x="2798" y="225" width="39" height="35" fill="rgb(33,33,33)"/>
<rect x="2837" y="225" width="39" height="35" fill="rgb(42,42,42)"/>
<rect x="2876" y="225" width="40" height="35" fill="rgb(50,50,50)"/>
<rect x="2916" y="225" width="39" height="35" fill="rgb(54,54,54)"/>
<rect x="2955" y="225" width="39" height="35" fill="rgb(62,62,62)"/>
<rect x="2994" y="225" width="40" height="35" fill="rgb(58,58,58)"/>
<rect x="3034" y="225" width="39" height="35" fill="rgb(66,66,66)"/>
<rect x="3073" y="225" width="39" height="35" fill="rgb(74,74,74)"/>
<rect x="3112" y="225" width="40" height="35" fill="rgb(78,78,78)"/>
<rect x="3152" y="225" width="39" height="35" fill="rgb(90,90,90)"/>
<rect x="3191" y="225" width="39" height="35" fill="rgb(110,110,110)"/>
<rect x="3230" y="225" width="39" height="35" fill="rgb(110,110,110)"/>
<rect x="3269" y="225" width="40" height="35" fill="rgb(126,126,126)"/>
<rect x="3309" y="225" width="39" height="35" fill="rgb(130,130,130)"/>
<rect x="2562" y="190" width="39" height="35" fill="rgb(108,108,108)"/>
<rect x="2601" y="190" width="40" height="35" fill="rgb(44,44,44)"/>
<rect x="2641" y="190" width="39" height="35" fill="rgb(5,5,5)"/>
<rect x="2680" y="190" width="39" height="35" fill="rgb(2,2,2)"/>
<rect x="2719" y="190" width="39" height="35" fill="rgb(14,14,14)"/>
<rect x="2758" y="190" width="40" height="35" fill="rgb(21,21,21)"/>
<rect x="2798" y="190" width="39" height="35" fill="rgb(30,30,30)"/>
<rect x="2837" y="190" width="39" height="35" fill="rgb(42,42,42)"/>
<rect x="2876" y="190" width="40" height="35" fill="rgb(48,48,48)"/>
<rect x="2916" y="190" width="39" height="35" fill="rgb(52,52,52)"/>
<rect x="2955" y="190" width="39" height="35" fill="rgb(56,56,56)"/>
<rect x="2994" y="190" width="40" height="35" fill="rgb(59,59,59)"/>
<rect x="3034" y="190" width="39" height="35" fill="rgb(66,66,66)"/>
<rect x="3073" y="190" width="39" height="35" fill="rgb(72,72,72)"/>
<rect x="3112" y="190" width="40" height="35" fill="rgb(78,78,78)"/>
<rect x="3152" y="190" width="39" height="35" fill="rgb(86,86,86)"/>
<rect x="3191" y="190" width="39" height="35" fill="rgb(98,98,98)"/>
<rect x="3230" y="190" width="39" height="35" fill="rgb(110,110,110)"/>
<rect x="3269" y="190" width="40" height="35" fill="rgb(114,114,114)"/>
<rect x="3309" y="190" width="39" height="35" fill="rgb(132,132,132)"/>
<rect x="2562" y="155" width="39" height="35" fill="rgb(112,112,112)"/>
<rect x="2601" y="155" width="40" height="35" fill="rgb(44,44,44)"/>
<rect x="2641" y="155" width="39" height="35" fill="rgb(5,5,5)"/>
<rect x="2680" y="155" width="39" height="35" fill="rgb(1,1,1)"/>
<rect x="2719" y="155" width="39" height="35" fill="rgb(12,12,12)"/>
<rect x="2758" y="155" width="40" height="35" fill="rgb(21,21,21)"/>
<rect x="2798" y="155" width="39" height="35" fill="rgb(29,29,29)"/>
<rect x="2837" y="155" width="39" height="35" fill="rgb(38,38,38)"/>
<rect x="2876" y="155" width="40" height="35" fill="rgb(45,45,45)"/>
<rect x="2916" y="155" width="39" height="35" fill="rgb(50,50,50)"/>
<rect x="2955" y="155" width="39" height="35" fill="rgb(56,56,56)"/>
<rect x="2994" y="155" width="40" height="35" fill="rgb(54,54,54)"/>
<rect x="3034" y="155" width="39" height="35" fill="rgb(66,66,66)"/>
<rect x="3073" y="155" width="39" height="35" fill="rgb(74,74,74)"/>
<rect x="3112" y="155" width="40" height="35" fill="rgb(78,78,78)"/>
<rect x="3152" y="155" width="39" height="35" fill="rgb(92,92,92)"/>
<rect x="3191" y="155" width="39" height="35" fill="rgb(104,104,104)"/>
<rect x="3230" y="155" width="39" height="35" fill="rgb(112,112,112)"/>
<rect x="3269" y="155" width="40" height="35" fill="rgb(116,116,116)"/>
<rect x="3309" y="155" width="39" height="35" fill="rgb(128,128,128)"/>
<rect x="2562" y="120" width="39" height="35" fill="rgb(110,110,110)"/>
<rect x="2601" y="120" width="40" height="35" fill="rgb(43,43,43)"/>
<rect x="2641" y="120" width="39" height="35" fill="rgb(4,4,4)"/>
<rect x="2680" y="120" width="39" height="35" fill="rgb(1,1,1)"/>
<rect x="2719" y="120" width="39" height="35" fill="rgb(12,12,12)"/>
<rect x="2758" y="120" width="40" height="35" fill="rgb(18,18,18)"/>
<rect x="2798" y="120" width="39" height="35" fill="rgb(28,28,28)"/>
<rect x="2837" y="120" width="39" height="35" fill="rgb(38,38,38)"/>
<rect x="2876" y="120" width="40" height="35" fill="rgb(46,46,46)"/>
<rect x="2916" y="120" width="39" height="35" fill="rgb(50,50,50)"/>
<rect x="2955" y="120" width="39" height="35" fill="rgb(53,53,53)"/>
<rect x="2994" y="120" width="40" height="35" fill="rgb(60,60,60)"/>
<rect x="3034" y="120" width="39" height="35" fill="rgb(61,61,61)"/>
<rect x="3073" y="120" width="39" height="35" fill="rgb(72,72,72)"/>
<rect x="3112" y="120" width="40" height="35" fill="rgb(80,80,80)"/>
<rect x="3152" y="120" width="39" height="35" fill="rgb(90,90,90)"/>
<rect x="3191" y="120" width="39" height="35" fill="rgb(106,106,106)"/>
<rect x="3230" y="120" width="39" height="35" fill="rgb(106,106,106)"/>
<rect x="3269" y="120" width="40" height="35" fill="rgb(124,124,124)"/>
<rect x="3309" y="120" width="39" height="35" fill="rgb(130,130,130)"/>
</g>
<defs><linearGradient id="cb" x1="0" y1="0" x2="0" y2="1"><stop offset="0" stop-color="#000"/><stop offset="1" stop-color="#fff"/></linearGradient></defs>
<rect x="3354" y="120" width="51" height="873" fill="url(#cb)"/>
<g shape-rendering="crispEdges">
<rect x="2562.00" y="120.00" width="787.00" height="1" fill="#000"/>
<rect x="2562.00" y="993.00" width="787.00" height="1" fill="#000"/>
<rect x="2562.00" y="120.00" width="1" height="874.00" fill="#000"/>
<rect x="3348.00" y="120.00" width="1" height="874.00" fill="#000"/>
<rect x="2588.00" y="981.00" width="1" height="12.00" fill="#000"/>
<rect x="2614.00" y="981.00" width="1" height="12.00" fill="#000"/>
<rect x="2641.00" y="981.00" width="1" height="12.00" fill="#000"/>
<rect x="2667.00" y="981.00" width="1" height="12.00" fill="#000"/>
<rect x="2693.00" y="969.00" width="1" height="24.00" fill="#000"/>
<rect x="2719.00" y="981.00" width="1" height="12.00" fill="#000"/>
<rect x="2745.00" y="981.00" width="1" height="12.00" fill="#000"/>
<rect x="2772.00" y="981.00" width="1" height="12.00" fill="#000"/>
<rect x="2798.00" y="981.00" width="1" height="12.00" fill="#000"/>
<rect x="2824.00" y="969.00" width="1" height="24.00" fill="#000"/>
<rect x="2850.00" y="981.00" width="1" height="12.00" fill="#000"/>
<rect x="2876.00" y="981.00" width="1" height="12.00" fill="#000"/>
<rect x="2903.00" y="981.00" width="1" height="12.00" fill="#000"/>
<rect x="2929.00" y="981.00" width="1" height="12.00" fill="#000"/>
<rect x="2955.00" y="969.00" width="1" height="24.00" fill="#000"/>
<rect x="2981.00" y="981.00" width="1" height="12.00" fill="#000"/>
<rect x="3007.00" y="981.00" width="1" height="12.00" fill="#000"/>
<rect x="3034.00" y="981.00" width="1" height="12.00" fill="#000"/>
<rect x="3060.00" y="981.00" width="1" height="12.00" fill="#000"/>
<rect x="3086.00" y="969.00" width="1" height="24.00" fill="#000"/>
<rect x="3112.00" y="981.00" width="1" height="12.00" fill="#000"/>
<rect x="3138.00" y="981.00" width="1" height="12.00" fill="#000"/>
<rect x="3165.00" y="981.00" width="1" height="12.00" fill="#000"/>
<rect x="3191.00" y="981.00" width="1" height="12.00" fill="#000"/>
<rect x="3217.00" y="969.00" width="1" height="24.00" fill="#000"/>
<rect x="3243.00" y="981.00" width="1" height="12.00" fill="#000"/>
<rect x="3269.00" y="981.00" width="1" height="12.00" fill="#000"/>
<rect x="3296.00" y="981.00" width="1" height="12.00" fill="#000"/>
<rect x="3322.00" y="981.00" width="1" height="12.00" fill="#000"/>
<rect x="2562.00" y="976.00" width="13.00" height="1" fill="#000"/>
<rect x="2562.00" y="958.00" width="13.00" height="1" fill="#000"/>
<rect x="2562.00" y="941.00" width="13.00" height="1" fill="#000"/>
<rect x="2562.00" y="923.00" width="13.00" height="1" fill="#000"/>
<rect x="2562.00" y="906.00" width="27.00" height="1" fill="#000"/>
<rect x="2562.00" y="888.00" width="13.00" height="1" fill="#000"/>
<rect x="2562.00" y="871.00" width="13.00" height="1" fill="#000"/>
<rect x="2562.00" y="853.00" width="13.00" height="1" fill="#000"/>
<rect x="2562.00" y="836.00" width="13.00" height="1" fill="#000"/>
<rect x="2562.00" y="818.00" width="27.00" height="1" fill="#000"/>
<rect x="2562.00" y="801.00" width="13.00" height="1" fill="#000"/>
<rect x="2562.00" y="783.00" width="13.00" height="1" fill="#000"/>
<rect x="2562.00" y="766.00" width="13.00" height="1" fill="#000"/>
<rect x="2562.00" y="749.00" width="13.00" height="1" fill="#000"/>
<rect x="2562.00" y="731.00" width="27.00" height="1" fill="#000"/>
<rect x="2562.00" y="714.00" width="13.00" height="1" fill="#000"/>
<rect x="2562.00" y="696.00" width="13.00" height="1" fill="#000"/>
<rect x="2562.00" y="679.00" width="13.00" height="1" fill="#000"/>
<rect x="2562.00" y="661.00" width="13.00" height="1" fill="#000"/>
<rect x="2562.00" y="644.00" width="27.00" height="1" fill="#000"/>
<rect x="2562.00" y="626.00" width="13.00" height="1" fill="#000"/>
<rect x="2562.00" y="609.00" width="13.00" height="1" fill="#000"/>
<rect x="2562.00" y="591.00" width="13.00" height="1" fill="#000"/>
<rect x="2562.00" y="574.00" width="13.00" height="1" fill="#000"/>
<rect x="2562.00" y="556.00" width="27.00" height="1" fill="#000"/>
<rect x="2562.00" y="539.00" width="13.00" height="1" fill="#000"/>
<rect x="2562.00" y="522.00" width="13.00" height="1" fill="#000"/>
<rect x="2562.00" y="504.00" width="13.00" height="1" fill="#000"/>
<rect x="2562.00" y="487.00" width="13.00" height="1" fill="#000"/>
<rect x="2562.00" y="469.00" width="27.00" height="1" fill="#000"/>
<rect x="2562.00" y="452.00" width="13.00" height="1" fill="#000"/>
<rect x="2562.00" y="434.00" width="13.00" height="1" fill="#000"/>
<rect x="2562.00" y="417.00" width="13.00" height="1" fill="#000"/>
<rect x="2562.00" y="399.00" width="13.00" height="1" fill="#000"/>
<rect x="2562.00" y="382.00" width="27.00" height="1" fill="#000"/>
<rect x="2562.00" y="364.00" width="13.00" height="1" fill="#000"/>
<rect x="2562.00" y="347.00" width="13.00" height="1" fill="#000"/>
<rect x="2562.00" y="330.00" width="13.00" height="1" fill="#000"/>
<rect x="2562.00" y="312.00" width="13.00" height="1" fill="#000"/>
<rect x="2562.00" y="295.00" width="27.00" height="1" fill="#000"/>
<rect x="2562.00" y="277.00" width="13.00" height="1" fill="#000"/>
<rect x="2562.00" y="260.00" width="13.00" height="1" fill="#000"/>
<rect x="2562.00" y="242.00" width="13.00" height="1" fill="#000"/>
<rect x="2562.00" y="225.00" width="13.00" height="1" fill="#000"/>
<rect x="2562.00" y="207.00" width="27.00" height="1" fill="#000"/>
<rect x="2562.00" y="190.00" width="13.00" height="1" fill="#000"/>
<rect x="2562.00" y="172.00" width="13.00" height="1" fill="#000"/>
<rect x="2562.00" y="155.00" width="13.00" height="1" fill="#000"/>
<rect x="2562.00" y="137.00" width="13.00" height="1" fill="#000"/>
<rect x="3405.00" y="120.00" width="1" height="874.00" fill="#000"/>
<rect x="3354.00" y="993.00" width="52.00" height="1" fill="#000"/>
<rect x="3378.00" y="993.00" width="27.00" height="1" fill="#000"/>
<rect x="3390.00" y="918.00" width="15.00" height="1" fill="#000"/>
<rect x="3390.00" y="875.00" width="15.00" height="1" fill="#000"/>
<rect x="3390.00" y="844.00" width="15.00" height="1" fill="#000"/>
<rect x="3390.00" y="820.00" width="15.00" height="1" fill="#000"/>
<rect x="3390.00" y="800.00" width="15.00" height="1" fill="#000"/>
<rect x="3390.00" y="783.00" width="15.00" height="1" fill="#000"/>
<rect x="3390.00" y="769.00" width="15.00" height="1" fill="#000"/>
<rect x="3390.00" y="756.00" width="15.00" height="1" fill="#000"/>
<rect x="3378.00" y="745.00" width="27.00" height="1" fill="#000"/>
<rect x="3390.00" y="670.00" width="15.00" height="1" fill="#000"/>
<rect x="3390.00" y="627.00" width="15.00" height="1" fill="#000"/>
<rect x="3390.00" y="596.00" width="15.00" height="1" fill="#000"/>
<rect x="3390.00" y="571.00" width="15.00" height="1" fill="#000"/>
<rect x="3390.00" y="552.00" width="15.00" height="1" fill="#000"/>
<rect x="3390.00" y="535.00" width="15.00" height="1" fill="#000"/>
<rect x="3390.00" y="521.00" width="15.00" height="1" fill="#000"/>
<rect x="3390.00" y="508.00" width="15.00" height="1" fill="#000"/>
<rect x="3378.00" y="497.00" width="27.00" height="1" fill="#000"/>
<rect x="3390.00" y="422.00" width="15.00" height="1" fill="#000"/>
<rect x="3390.00" y="378.00" width="15.00" height="1" fill="#000"/>
<rect x="3390.00" y="347.00" width="15.00" height="1" fill="#000"/>
<rect x="3390.00" y="323.00" width="15.00" height="1" fill="#000"/>
<rect x="3390.00" y="304.00" width="15.00" height="1" fill="#000"/>
<rect x="3390.00" y="287.00" width="15.00" height="1" fill="#000"/>
<rect x="3390.00" y="273.00" width="15.00" height="1" fill="#000"/>
<rect x="3390.00" y="260.00" width="15.00" height="1" fill="#000"/>
<rect x="3378.00" y="249.00" width="27.00" height="1" fill="#000"/>
<rect x="3390.00" y="174.00" width="15.00" height="1" fill="#000"/>
<rect x="3390.00" y="130.00" width="15.00" height="1" fill="#000"/>
</g>
<text transform="translate(2559.50 1028.80) scale(1 1.035)" font-size="34.5" text-anchor="middle" font-family="Liberation Sans, sans-serif">0</text>
<text transform="translate(2690.50 1028.80) scale(1 1.035)" font-size="34.5" text-anchor="middle" font-family="Liberation Sans, sans-serif">100</text>
<text transform="translate(2821.50 1028.80) scale(1 1.035)" font-size="34.5" text-anchor="middle" font-family="Liberation Sans, sans-serif">200</text>
<text transform="translate(2952.50 1028.80) scale(1 1.035)" font-size="34.5" text-anchor="middle" font-family="Liberation Sans, sans-serif">300</text>
<text transform="translate(3083.50 1028.80) scale(1 1.035)" font-size="34.5" text-anchor="middle" font-family="Liberation Sans, sans-serif">400</text>
<text transform="translate(3214.50 1028.80) scale(1 1.035)" font-size="34.5" text-anchor="middle" font-family="Liberation Sans, sans-serif">500</text>
<text transform="translate(3345.50 1028.80) scale(1 1.035)" font-size="34.5" text-anchor="middle" font-family="Liberation Sans, sans-serif">600</text>
<text transform="translate(2554.30 1007.80) scale(1 1.035)" font-size="34.5" text-anchor="end" font-family="Liberation Sans, sans-serif">0</text>
<text transform="translate(2554.30 920.50) scale(1 1.035)" font-size="34.5" text-anchor="end" font-family="Liberation Sans, sans-serif">0.05</text>
<text transform="translate(2554.30 833.20) scale(1 1.035)" font-size="34.5" text-anchor="end" font-family="Liberation Sans, sans-serif">0.1</text>
<text transform="translate(2554.30 745.90) scale(1 1.035)" font-size="34.5" text-anchor="end" font-family="Liberation Sans, sans-serif">0.15</text>
<text transform="translate(2554.30 658.60) scale(1 1.035)" font-size="34.5" text-anchor="end" font-family="Liberation Sans, sans-serif">0.2</text>
<text transform="translate(2554.30 571.30) scale(1 1.035)" font-size="34.5" text-anchor="end" font-family="Liberation Sans, sans-serif">0.25</text>
<text transform="translate(2554.30 484.00) scale(1 1.035)" font-size="34.5" text-anchor="end" font-family="Liberation Sans, sans-serif">0.3</text>
<text transform="translate(2554.30 396.70) scale(1 1.035)" font-size="34.5" text-anchor="end" font-family="Liberation Sans, sans-serif">0.35</text>
<text transform="translate(2554.30 309.40) scale(1 1.035)" font-size="34.5" text-anchor="end" font-family="Liberation Sans, sans-serif">0.4</text>
<text transform="translate(2554.30 222.10) scale(1 1.035)" font-size="34.5" text-anchor="end" font-family="Liberation Sans, sans-serif">0.45</text>
<text transform="translate(2554.30 134.80) scale(1 1.035)" font-size="34.5" text-anchor="end" font-family="Liberation Sans, sans-serif">0.5</text>
<text transform="translate(3309.00 1062.00) scale(1 1.035)" font-size="34.5" text-anchor="start" font-family="Liberation Sans, sans-serif">p</text>
<text transform="translate(3330.50 1048.50) scale(1 1.035)" font-size="21" text-anchor="start" font-family="Liberation Sans, sans-serif">V</text>
<text transform="translate(3330.50 1081.90) scale(1 1.035)" font-size="21" text-anchor="start" font-family="Liberation Sans, sans-serif">T</text>
<text transform="translate(2751.30 65.40) scale(1 1.05)" font-size="53.0" text-anchor="start" font-family="Liberation Sans, sans-serif">Morphing prediction</text>
<text transform="translate(3418.00 265.65) scale(1 1.035)" font-size="34.5" text-anchor="start" font-family="Liberation Sans, sans-serif">10</text>
<text transform="translate(3454.50 248.15) scale(1 1.035)" font-size="25" text-anchor="start" font-family="Liberation Sans, sans-serif">3</text>
<text transform="translate(3418.00 515.57) scale(1 1.035)" font-size="34.5" text-anchor="start" font-family="Liberation Sans, sans-serif">10</text>
<text transform="translate(3454.50 498.07) scale(1 1.035)" font-size="25" text-anchor="start" font-family="Liberation Sans, sans-serif">2</text>
<text transform="translate(3418.00 759.18) scale(1 1.035)" font-size="34.5" text-anchor="start" font-family="Liberation Sans, sans-serif">10</text>
<text transform="translate(3418.00 1007.30) scale(1 1.035)" font-size="34.5" text-anchor="start" font-family="Liberation Sans, sans-serif">1</text>
<text transform="translate(3532.00 128.50) rotate(-90) scale(1 1.035)" font-size="34.5" text-anchor="end" font-family="Liberation Sans, sans-serif">Events / ( 30 x 0.02 )</text>
<text transform="translate(2455.30 185.30) rotate(-90) scale(1 1.035)" font-size="34.5" text-anchor="start" font-family="Liberation Sans, sans-serif">c</text>
<text transform="translate(2471.50 167.20) rotate(-90) scale(1 1.035)" font-size="22.3" text-anchor="start" font-family="Liberation Sans, sans-serif">Hq</text>
<text transform="translate(2455.00 138.60) rotate(-90) scale(1 1.035)" font-size="16.5" text-anchor="start" font-family="Liberation Sans, sans-serif">(3)</text>
</svg></body></html>
